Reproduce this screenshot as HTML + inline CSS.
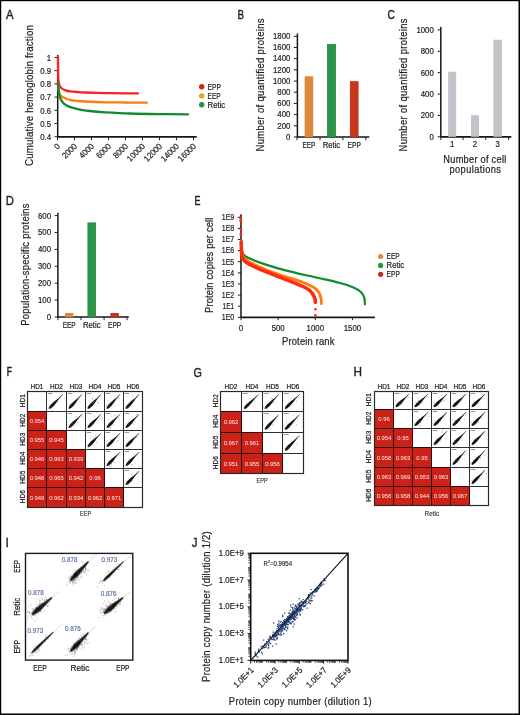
<!DOCTYPE html>
<html><head><meta charset="utf-8"><style>
html,body{margin:0;padding:0;background:#fff;}
svg{display:block;}
text{font-family:"Liberation Sans", sans-serif;}
</style></head><body>
<div style="will-change:transform;background:#fff;width:520px;height:715px"><svg width="520" height="715" viewBox="0 0 520 715">
<rect width="520" height="715" fill="#fff"/>
<text x="0.00" y="0.00" font-size="12.0" text-anchor="start" fill="#231f20" stroke="#231f20" stroke-width="0.38" transform="translate(5.90,18.70) scale(0.95,1)">A</text>
<text x="0.00" y="0.00" font-size="10.6" text-anchor="middle" fill="#231f20" stroke="#231f20" stroke-width="0.22" transform="translate(32.70,95.50) rotate(-90) scale(0.92,1)" textLength="153.26" lengthAdjust="spacing">Cumulative hemoglobin fraction</text>
<line x1="57.70" y1="55.00" x2="57.70" y2="137.30" stroke="#161616" stroke-width="1.5"/>
<line x1="57.20" y1="136.80" x2="196.70" y2="136.80" stroke="#161616" stroke-width="1.7"/>
<line x1="54.50" y1="57.50" x2="57.70" y2="57.50" stroke="#231f20" stroke-width="1.0"/>
<text x="0.00" y="0.00" font-size="8.5" text-anchor="end" fill="#231f20" stroke="#231f20" stroke-width="0.22" transform="translate(51.00,60.80) scale(0.92,1)">1</text>
<line x1="54.50" y1="70.70" x2="57.70" y2="70.70" stroke="#231f20" stroke-width="1.0"/>
<text x="0.00" y="0.00" font-size="8.5" text-anchor="end" fill="#231f20" stroke="#231f20" stroke-width="0.22" transform="translate(51.00,74.00) scale(0.92,1)">0.9</text>
<line x1="54.50" y1="83.90" x2="57.70" y2="83.90" stroke="#231f20" stroke-width="1.0"/>
<text x="0.00" y="0.00" font-size="8.5" text-anchor="end" fill="#231f20" stroke="#231f20" stroke-width="0.22" transform="translate(51.00,87.20) scale(0.92,1)">0.8</text>
<line x1="54.50" y1="97.10" x2="57.70" y2="97.10" stroke="#231f20" stroke-width="1.0"/>
<text x="0.00" y="0.00" font-size="8.5" text-anchor="end" fill="#231f20" stroke="#231f20" stroke-width="0.22" transform="translate(51.00,100.40) scale(0.92,1)">0.7</text>
<line x1="54.50" y1="110.30" x2="57.70" y2="110.30" stroke="#231f20" stroke-width="1.0"/>
<text x="0.00" y="0.00" font-size="8.5" text-anchor="end" fill="#231f20" stroke="#231f20" stroke-width="0.22" transform="translate(51.00,113.60) scale(0.92,1)">0.6</text>
<line x1="54.50" y1="123.50" x2="57.70" y2="123.50" stroke="#231f20" stroke-width="1.0"/>
<text x="0.00" y="0.00" font-size="8.5" text-anchor="end" fill="#231f20" stroke="#231f20" stroke-width="0.22" transform="translate(51.00,126.80) scale(0.92,1)">0.5</text>
<line x1="54.50" y1="136.70" x2="57.70" y2="136.70" stroke="#231f20" stroke-width="1.0"/>
<text x="0.00" y="0.00" font-size="8.5" text-anchor="end" fill="#231f20" stroke="#231f20" stroke-width="0.22" transform="translate(51.00,140.00) scale(0.92,1)">0.4</text>
<line x1="57.50" y1="136.80" x2="57.50" y2="140.20" stroke="#231f20" stroke-width="1.0"/>
<text x="0.00" y="0.00" font-size="8.5" text-anchor="end" fill="#231f20" stroke="#231f20" stroke-width="0.22" transform="translate(60.70,146.80) rotate(-45) scale(0.92,1)">0</text>
<line x1="74.50" y1="136.80" x2="74.50" y2="140.20" stroke="#231f20" stroke-width="1.0"/>
<text x="0.00" y="0.00" font-size="8.5" text-anchor="end" fill="#231f20" stroke="#231f20" stroke-width="0.22" transform="translate(77.70,146.80) rotate(-45) scale(0.92,1)">2000</text>
<line x1="91.50" y1="136.80" x2="91.50" y2="140.20" stroke="#231f20" stroke-width="1.0"/>
<text x="0.00" y="0.00" font-size="8.5" text-anchor="end" fill="#231f20" stroke="#231f20" stroke-width="0.22" transform="translate(94.70,146.80) rotate(-45) scale(0.92,1)">4000</text>
<line x1="108.50" y1="136.80" x2="108.50" y2="140.20" stroke="#231f20" stroke-width="1.0"/>
<text x="0.00" y="0.00" font-size="8.5" text-anchor="end" fill="#231f20" stroke="#231f20" stroke-width="0.22" transform="translate(111.70,146.80) rotate(-45) scale(0.92,1)">6000</text>
<line x1="125.50" y1="136.80" x2="125.50" y2="140.20" stroke="#231f20" stroke-width="1.0"/>
<text x="0.00" y="0.00" font-size="8.5" text-anchor="end" fill="#231f20" stroke="#231f20" stroke-width="0.22" transform="translate(128.70,146.80) rotate(-45) scale(0.92,1)">8000</text>
<line x1="142.50" y1="136.80" x2="142.50" y2="140.20" stroke="#231f20" stroke-width="1.0"/>
<text x="0.00" y="0.00" font-size="8.5" text-anchor="end" fill="#231f20" stroke="#231f20" stroke-width="0.22" transform="translate(145.70,146.80) rotate(-45) scale(0.92,1)">10000</text>
<line x1="159.50" y1="136.80" x2="159.50" y2="140.20" stroke="#231f20" stroke-width="1.0"/>
<text x="0.00" y="0.00" font-size="8.5" text-anchor="end" fill="#231f20" stroke="#231f20" stroke-width="0.22" transform="translate(162.70,146.80) rotate(-45) scale(0.92,1)">12000</text>
<line x1="176.50" y1="136.80" x2="176.50" y2="140.20" stroke="#231f20" stroke-width="1.0"/>
<text x="0.00" y="0.00" font-size="8.5" text-anchor="end" fill="#231f20" stroke="#231f20" stroke-width="0.22" transform="translate(179.70,146.80) rotate(-45) scale(0.92,1)">14000</text>
<line x1="193.50" y1="136.80" x2="193.50" y2="140.20" stroke="#231f20" stroke-width="1.0"/>
<text x="0.00" y="0.00" font-size="8.5" text-anchor="end" fill="#231f20" stroke="#231f20" stroke-width="0.22" transform="translate(196.70,146.80) rotate(-45) scale(0.92,1)">16000</text>
<path d="M58.00,56.80 C58.02,59.00 58.03,66.13 58.10,70.00 C58.17,73.87 58.20,77.50 58.40,80.00 C58.60,82.50 58.73,83.58 59.30,85.00 C59.87,86.42 60.77,87.62 61.80,88.50 C62.83,89.38 64.07,89.82 65.50,90.30 C66.93,90.78 68.48,91.12 70.40,91.40 C72.32,91.68 74.60,91.82 77.00,92.00 C79.40,92.18 79.97,92.32 84.80,92.50 C89.63,92.68 99.30,92.97 106.00,93.10 C112.70,93.23 119.67,93.25 125.00,93.30 C130.33,93.35 135.83,93.38 138.00,93.40" fill="none" stroke="#ff1f1f" stroke-width="2.3" stroke-linecap="round"/>
<path d="M58.00,84.00 C58.12,85.00 58.40,88.28 58.70,90.00 C59.00,91.72 59.33,93.25 59.80,94.30 C60.27,95.35 60.85,95.75 61.50,96.30 C62.15,96.85 62.82,97.15 63.70,97.60 C64.58,98.05 65.68,98.60 66.80,99.00 C67.92,99.40 68.70,99.68 70.40,100.00 C72.10,100.32 74.60,100.65 77.00,100.90 C79.40,101.15 79.97,101.27 84.80,101.50 C89.63,101.73 99.30,102.13 106.00,102.30 C112.70,102.47 118.17,102.45 125.00,102.50 C131.83,102.55 143.33,102.58 147.00,102.60" fill="none" stroke="#ff7b12" stroke-width="2.3" stroke-linecap="round"/>
<path d="M57.90,83.00 C58.00,84.08 58.25,87.47 58.50,89.50 C58.75,91.53 59.08,93.70 59.40,95.20 C59.72,96.70 60.00,97.53 60.40,98.50 C60.80,99.47 61.28,100.22 61.80,101.00 C62.32,101.78 62.87,102.57 63.50,103.20 C64.13,103.83 64.45,104.13 65.60,104.80 C66.75,105.47 68.00,106.40 70.40,107.20 C72.80,108.00 75.98,108.88 80.00,109.60 C84.02,110.32 90.17,111.03 94.50,111.50 C98.83,111.97 100.08,112.07 106.00,112.40 C111.92,112.73 121.00,113.22 130.00,113.50 C139.00,113.78 150.33,113.95 160.00,114.10 C169.67,114.25 183.33,114.35 188.00,114.40" fill="none" stroke="#138a2e" stroke-width="2.3" stroke-linecap="round"/>
<circle cx="201.70" cy="86.70" r="2.7" fill="#c8291b"/>
<text x="207.60" y="89.60" font-size="8.5" text-anchor="start" fill="#231f20" stroke="#231f20" stroke-width="0.22" textLength="13.30" lengthAdjust="spacingAndGlyphs">EPP</text>
<circle cx="201.70" cy="95.90" r="2.7" fill="#eaa520"/>
<text x="207.60" y="98.80" font-size="8.5" text-anchor="start" fill="#231f20" stroke="#231f20" stroke-width="0.22" textLength="13.00" lengthAdjust="spacingAndGlyphs">EEP</text>
<circle cx="201.70" cy="104.80" r="2.7" fill="#1f9a43"/>
<text x="207.60" y="107.70" font-size="8.5" text-anchor="start" fill="#231f20" stroke="#231f20" stroke-width="0.22" textLength="17.60" lengthAdjust="spacingAndGlyphs">Retic</text>
<text x="0.00" y="0.00" font-size="12.0" text-anchor="start" fill="#231f20" stroke="#231f20" stroke-width="0.4" transform="translate(237.60,18.70) scale(0.82,1)">B</text>
<text x="0.00" y="0.00" font-size="10.3" text-anchor="middle" fill="#231f20" stroke="#231f20" stroke-width="0.22" transform="translate(264.40,85.00) rotate(-90) scale(0.92,1)" textLength="144.57" lengthAdjust="spacing">Number of quantified proteins</text>
<line x1="297.40" y1="33.50" x2="297.40" y2="137.50" stroke="#161616" stroke-width="1.5"/>
<line x1="296.90" y1="137.00" x2="369.30" y2="137.00" stroke="#161616" stroke-width="1.7"/>
<line x1="293.80" y1="36.30" x2="297.40" y2="36.30" stroke="#231f20" stroke-width="1.0"/>
<text x="0.00" y="0.00" font-size="8.5" text-anchor="end" fill="#231f20" stroke="#231f20" stroke-width="0.22" transform="translate(290.40,39.00) scale(0.92,1)">1800</text>
<line x1="293.80" y1="47.49" x2="297.40" y2="47.49" stroke="#231f20" stroke-width="1.0"/>
<text x="0.00" y="0.00" font-size="8.5" text-anchor="end" fill="#231f20" stroke="#231f20" stroke-width="0.22" transform="translate(290.40,50.19) scale(0.92,1)">1600</text>
<line x1="293.80" y1="58.68" x2="297.40" y2="58.68" stroke="#231f20" stroke-width="1.0"/>
<text x="0.00" y="0.00" font-size="8.5" text-anchor="end" fill="#231f20" stroke="#231f20" stroke-width="0.22" transform="translate(290.40,61.38) scale(0.92,1)">1400</text>
<line x1="293.80" y1="69.87" x2="297.40" y2="69.87" stroke="#231f20" stroke-width="1.0"/>
<text x="0.00" y="0.00" font-size="8.5" text-anchor="end" fill="#231f20" stroke="#231f20" stroke-width="0.22" transform="translate(290.40,72.57) scale(0.92,1)">1200</text>
<line x1="293.80" y1="81.06" x2="297.40" y2="81.06" stroke="#231f20" stroke-width="1.0"/>
<text x="0.00" y="0.00" font-size="8.5" text-anchor="end" fill="#231f20" stroke="#231f20" stroke-width="0.22" transform="translate(290.40,83.76) scale(0.92,1)">1000</text>
<line x1="293.80" y1="92.24" x2="297.40" y2="92.24" stroke="#231f20" stroke-width="1.0"/>
<text x="0.00" y="0.00" font-size="8.5" text-anchor="end" fill="#231f20" stroke="#231f20" stroke-width="0.22" transform="translate(290.40,94.94) scale(0.92,1)">800</text>
<line x1="293.80" y1="103.43" x2="297.40" y2="103.43" stroke="#231f20" stroke-width="1.0"/>
<text x="0.00" y="0.00" font-size="8.5" text-anchor="end" fill="#231f20" stroke="#231f20" stroke-width="0.22" transform="translate(290.40,106.13) scale(0.92,1)">600</text>
<line x1="293.80" y1="114.62" x2="297.40" y2="114.62" stroke="#231f20" stroke-width="1.0"/>
<text x="0.00" y="0.00" font-size="8.5" text-anchor="end" fill="#231f20" stroke="#231f20" stroke-width="0.22" transform="translate(290.40,117.32) scale(0.92,1)">400</text>
<line x1="293.80" y1="125.81" x2="297.40" y2="125.81" stroke="#231f20" stroke-width="1.0"/>
<text x="0.00" y="0.00" font-size="8.5" text-anchor="end" fill="#231f20" stroke="#231f20" stroke-width="0.22" transform="translate(290.40,128.51) scale(0.92,1)">200</text>
<line x1="293.80" y1="137.00" x2="297.40" y2="137.00" stroke="#231f20" stroke-width="1.0"/>
<text x="0.00" y="0.00" font-size="8.5" text-anchor="end" fill="#231f20" stroke="#231f20" stroke-width="0.22" transform="translate(290.40,139.70) scale(0.92,1)">0</text>
<line x1="297.00" y1="137.00" x2="297.00" y2="140.20" stroke="#231f20" stroke-width="1.0"/>
<line x1="320.00" y1="137.00" x2="320.00" y2="140.20" stroke="#231f20" stroke-width="1.0"/>
<line x1="342.90" y1="137.00" x2="342.90" y2="140.20" stroke="#231f20" stroke-width="1.0"/>
<line x1="365.80" y1="137.00" x2="365.80" y2="140.20" stroke="#231f20" stroke-width="1.0"/>
<rect x="305.10" y="76.80" width="7.70" height="60.20" fill="#dd8a3e" stroke="#e07b28" stroke-width="0.8"/>
<text x="308.95" y="147.60" font-size="8.5" text-anchor="middle" fill="#231f20" stroke="#231f20" stroke-width="0.22" textLength="13.00" lengthAdjust="spacingAndGlyphs">EEP</text>
<rect x="327.40" y="44.40" width="8.10" height="92.60" fill="#2a9549" stroke="#238a40" stroke-width="0.8"/>
<text x="331.45" y="147.60" font-size="8.5" text-anchor="middle" fill="#231f20" stroke="#231f20" stroke-width="0.22" textLength="17.60" lengthAdjust="spacingAndGlyphs">Retic</text>
<rect x="350.30" y="81.70" width="7.80" height="55.30" fill="#c9361c" stroke="#c02a14" stroke-width="0.8"/>
<text x="354.20" y="147.60" font-size="8.5" text-anchor="middle" fill="#231f20" stroke="#231f20" stroke-width="0.22" textLength="13.30" lengthAdjust="spacingAndGlyphs">EPP</text>
<text x="0.00" y="0.00" font-size="12.0" text-anchor="start" fill="#231f20" stroke="#231f20" stroke-width="0.4" transform="translate(387.50,18.90) scale(0.85,1)">C</text>
<text x="0.00" y="0.00" font-size="10.2" text-anchor="middle" fill="#231f20" stroke="#231f20" stroke-width="0.22" transform="translate(407.40,85.00) rotate(-90) scale(0.92,1)" textLength="144.57" lengthAdjust="spacing">Number of quantified proteins</text>
<line x1="440.80" y1="27.00" x2="440.80" y2="137.30" stroke="#161616" stroke-width="1.5"/>
<line x1="440.30" y1="136.80" x2="511.30" y2="136.80" stroke="#161616" stroke-width="1.7"/>
<line x1="437.60" y1="29.90" x2="440.80" y2="29.90" stroke="#231f20" stroke-width="1.0"/>
<text x="0.00" y="0.00" font-size="8.5" text-anchor="end" fill="#231f20" stroke="#231f20" stroke-width="0.22" transform="translate(433.80,32.80) scale(0.92,1)">1000</text>
<line x1="437.60" y1="51.28" x2="440.80" y2="51.28" stroke="#231f20" stroke-width="1.0"/>
<text x="0.00" y="0.00" font-size="8.5" text-anchor="end" fill="#231f20" stroke="#231f20" stroke-width="0.22" transform="translate(433.80,54.18) scale(0.92,1)">800</text>
<line x1="437.60" y1="72.66" x2="440.80" y2="72.66" stroke="#231f20" stroke-width="1.0"/>
<text x="0.00" y="0.00" font-size="8.5" text-anchor="end" fill="#231f20" stroke="#231f20" stroke-width="0.22" transform="translate(433.80,75.56) scale(0.92,1)">600</text>
<line x1="437.60" y1="94.04" x2="440.80" y2="94.04" stroke="#231f20" stroke-width="1.0"/>
<text x="0.00" y="0.00" font-size="8.5" text-anchor="end" fill="#231f20" stroke="#231f20" stroke-width="0.22" transform="translate(433.80,96.94) scale(0.92,1)">400</text>
<line x1="437.60" y1="115.42" x2="440.80" y2="115.42" stroke="#231f20" stroke-width="1.0"/>
<text x="0.00" y="0.00" font-size="8.5" text-anchor="end" fill="#231f20" stroke="#231f20" stroke-width="0.22" transform="translate(433.80,118.32) scale(0.92,1)">200</text>
<line x1="437.60" y1="136.80" x2="440.80" y2="136.80" stroke="#231f20" stroke-width="1.0"/>
<text x="0.00" y="0.00" font-size="8.5" text-anchor="end" fill="#231f20" stroke="#231f20" stroke-width="0.22" transform="translate(433.80,139.70) scale(0.92,1)">0</text>
<line x1="440.80" y1="136.80" x2="440.80" y2="140.00" stroke="#231f20" stroke-width="1.0"/>
<line x1="463.00" y1="136.80" x2="463.00" y2="140.00" stroke="#231f20" stroke-width="1.0"/>
<line x1="485.80" y1="136.80" x2="485.80" y2="140.00" stroke="#231f20" stroke-width="1.0"/>
<line x1="508.70" y1="136.80" x2="508.70" y2="140.00" stroke="#231f20" stroke-width="1.0"/>
<rect x="448.10" y="71.70" width="8.10" height="65.10" fill="#c5c3c9"/>
<text x="0.00" y="0.00" font-size="8.5" text-anchor="middle" fill="#231f20" stroke="#231f20" stroke-width="0.22" transform="translate(452.15,147.30) scale(0.92,1)">1</text>
<rect x="471.00" y="115.20" width="8.00" height="21.60" fill="#c5c3c9"/>
<text x="0.00" y="0.00" font-size="8.5" text-anchor="middle" fill="#231f20" stroke="#231f20" stroke-width="0.22" transform="translate(475.00,147.30) scale(0.92,1)">2</text>
<rect x="493.30" y="39.70" width="8.60" height="97.10" fill="#c5c3c9"/>
<text x="0.00" y="0.00" font-size="8.5" text-anchor="middle" fill="#231f20" stroke="#231f20" stroke-width="0.22" transform="translate(497.60,147.30) scale(0.92,1)">3</text>
<text x="0.00" y="0.00" font-size="10.3" text-anchor="middle" fill="#231f20" stroke="#231f20" stroke-width="0.22" transform="translate(474.80,162.60) scale(0.9,1)" textLength="70.00" lengthAdjust="spacing">Number of cell</text>
<text x="0.00" y="0.00" font-size="10.3" text-anchor="middle" fill="#231f20" stroke="#231f20" stroke-width="0.22" transform="translate(475.20,172.80) scale(0.9,1)" textLength="57.22" lengthAdjust="spacing">populations</text>
<text x="0.00" y="0.00" font-size="12.0" text-anchor="start" fill="#231f20" stroke="#231f20" stroke-width="0.38" transform="translate(5.80,204.70) scale(0.94,1)">D</text>
<text x="0.00" y="0.00" font-size="10.2" text-anchor="middle" fill="#231f20" stroke="#231f20" stroke-width="0.22" transform="translate(29.40,264.60) rotate(-90) scale(0.92,1)" textLength="132.93" lengthAdjust="spacing">Population-specific proteins</text>
<line x1="57.90" y1="212.80" x2="57.90" y2="317.50" stroke="#161616" stroke-width="1.5"/>
<line x1="57.40" y1="317.00" x2="128.80" y2="317.00" stroke="#161616" stroke-width="1.7"/>
<line x1="54.70" y1="215.60" x2="57.90" y2="215.60" stroke="#231f20" stroke-width="1.0"/>
<text x="0.00" y="0.00" font-size="8.5" text-anchor="end" fill="#231f20" stroke="#231f20" stroke-width="0.22" transform="translate(51.00,218.50) scale(0.92,1)">600</text>
<line x1="54.70" y1="232.50" x2="57.90" y2="232.50" stroke="#231f20" stroke-width="1.0"/>
<text x="0.00" y="0.00" font-size="8.5" text-anchor="end" fill="#231f20" stroke="#231f20" stroke-width="0.22" transform="translate(51.00,235.40) scale(0.92,1)">500</text>
<line x1="54.70" y1="249.40" x2="57.90" y2="249.40" stroke="#231f20" stroke-width="1.0"/>
<text x="0.00" y="0.00" font-size="8.5" text-anchor="end" fill="#231f20" stroke="#231f20" stroke-width="0.22" transform="translate(51.00,252.30) scale(0.92,1)">400</text>
<line x1="54.70" y1="266.30" x2="57.90" y2="266.30" stroke="#231f20" stroke-width="1.0"/>
<text x="0.00" y="0.00" font-size="8.5" text-anchor="end" fill="#231f20" stroke="#231f20" stroke-width="0.22" transform="translate(51.00,269.20) scale(0.92,1)">300</text>
<line x1="54.70" y1="283.20" x2="57.90" y2="283.20" stroke="#231f20" stroke-width="1.0"/>
<text x="0.00" y="0.00" font-size="8.5" text-anchor="end" fill="#231f20" stroke="#231f20" stroke-width="0.22" transform="translate(51.00,286.10) scale(0.92,1)">200</text>
<line x1="54.70" y1="300.10" x2="57.90" y2="300.10" stroke="#231f20" stroke-width="1.0"/>
<text x="0.00" y="0.00" font-size="8.5" text-anchor="end" fill="#231f20" stroke="#231f20" stroke-width="0.22" transform="translate(51.00,303.00) scale(0.92,1)">100</text>
<line x1="54.70" y1="317.00" x2="57.90" y2="317.00" stroke="#231f20" stroke-width="1.0"/>
<text x="0.00" y="0.00" font-size="8.5" text-anchor="end" fill="#231f20" stroke="#231f20" stroke-width="0.22" transform="translate(51.00,319.90) scale(0.92,1)">0</text>
<line x1="57.90" y1="317.00" x2="57.90" y2="320.20" stroke="#231f20" stroke-width="1.0"/>
<line x1="81.00" y1="317.00" x2="81.00" y2="320.20" stroke="#231f20" stroke-width="1.0"/>
<line x1="104.10" y1="317.00" x2="104.10" y2="320.20" stroke="#231f20" stroke-width="1.0"/>
<line x1="127.00" y1="317.00" x2="127.00" y2="320.20" stroke="#231f20" stroke-width="1.0"/>
<rect x="65.40" y="313.40" width="7.50" height="3.60" fill="#dd8a3e" stroke="#e07b28" stroke-width="0.8"/>
<text x="69.15" y="327.60" font-size="8.5" text-anchor="middle" fill="#231f20" stroke="#231f20" stroke-width="0.22" textLength="13.00" lengthAdjust="spacingAndGlyphs">EEP</text>
<rect x="87.90" y="222.90" width="7.70" height="94.10" fill="#2a9549" stroke="#238a40" stroke-width="0.8"/>
<text x="91.75" y="327.60" font-size="8.5" text-anchor="middle" fill="#231f20" stroke="#231f20" stroke-width="0.22" textLength="17.60" lengthAdjust="spacingAndGlyphs">Retic</text>
<rect x="110.90" y="313.40" width="7.50" height="3.60" fill="#c9361c" stroke="#c02a14" stroke-width="0.8"/>
<text x="114.65" y="327.60" font-size="8.5" text-anchor="middle" fill="#231f20" stroke="#231f20" stroke-width="0.22" textLength="13.30" lengthAdjust="spacingAndGlyphs">EPP</text>
<text x="0.00" y="0.00" font-size="12.0" text-anchor="start" fill="#231f20" stroke="#231f20" stroke-width="0.6" transform="translate(194.40,204.80) scale(0.74,1)">E</text>
<text x="0.00" y="0.00" font-size="10.2" text-anchor="middle" fill="#231f20" stroke="#231f20" stroke-width="0.22" transform="translate(212.60,265.30) rotate(-90) scale(0.92,1)" textLength="103.70" lengthAdjust="spacing">Protein copies per cell</text>
<line x1="241.00" y1="214.20" x2="241.00" y2="317.80" stroke="#161616" stroke-width="1.5"/>
<line x1="240.50" y1="317.30" x2="374.80" y2="317.30" stroke="#161616" stroke-width="1.7"/>
<line x1="237.80" y1="317.30" x2="241.00" y2="317.30" stroke="#231f20" stroke-width="1.0"/>
<text x="234.20" y="320.20" font-size="8.5" text-anchor="end" fill="#231f20" stroke="#231f20" stroke-width="0.22" textLength="12.40" lengthAdjust="spacingAndGlyphs">1E0</text>
<line x1="237.80" y1="306.18" x2="241.00" y2="306.18" stroke="#231f20" stroke-width="1.0"/>
<text x="234.20" y="309.08" font-size="8.5" text-anchor="end" fill="#231f20" stroke="#231f20" stroke-width="0.22" textLength="11.60" lengthAdjust="spacingAndGlyphs">1E1</text>
<line x1="237.80" y1="295.06" x2="241.00" y2="295.06" stroke="#231f20" stroke-width="1.0"/>
<text x="234.20" y="297.96" font-size="8.5" text-anchor="end" fill="#231f20" stroke="#231f20" stroke-width="0.22" textLength="12.40" lengthAdjust="spacingAndGlyphs">1E2</text>
<line x1="237.80" y1="283.94" x2="241.00" y2="283.94" stroke="#231f20" stroke-width="1.0"/>
<text x="234.20" y="286.84" font-size="8.5" text-anchor="end" fill="#231f20" stroke="#231f20" stroke-width="0.22" textLength="12.40" lengthAdjust="spacingAndGlyphs">1E3</text>
<line x1="237.80" y1="272.82" x2="241.00" y2="272.82" stroke="#231f20" stroke-width="1.0"/>
<text x="234.20" y="275.72" font-size="8.5" text-anchor="end" fill="#231f20" stroke="#231f20" stroke-width="0.22" textLength="12.40" lengthAdjust="spacingAndGlyphs">1E4</text>
<line x1="237.80" y1="261.70" x2="241.00" y2="261.70" stroke="#231f20" stroke-width="1.0"/>
<text x="234.20" y="264.60" font-size="8.5" text-anchor="end" fill="#231f20" stroke="#231f20" stroke-width="0.22" textLength="12.40" lengthAdjust="spacingAndGlyphs">1E5</text>
<line x1="237.80" y1="250.58" x2="241.00" y2="250.58" stroke="#231f20" stroke-width="1.0"/>
<text x="234.20" y="253.48" font-size="8.5" text-anchor="end" fill="#231f20" stroke="#231f20" stroke-width="0.22" textLength="12.40" lengthAdjust="spacingAndGlyphs">1E6</text>
<line x1="237.80" y1="239.46" x2="241.00" y2="239.46" stroke="#231f20" stroke-width="1.0"/>
<text x="234.20" y="242.36" font-size="8.5" text-anchor="end" fill="#231f20" stroke="#231f20" stroke-width="0.22" textLength="12.40" lengthAdjust="spacingAndGlyphs">1E7</text>
<line x1="237.80" y1="228.34" x2="241.00" y2="228.34" stroke="#231f20" stroke-width="1.0"/>
<text x="234.20" y="231.24" font-size="8.5" text-anchor="end" fill="#231f20" stroke="#231f20" stroke-width="0.22" textLength="12.40" lengthAdjust="spacingAndGlyphs">1E8</text>
<line x1="237.80" y1="217.22" x2="241.00" y2="217.22" stroke="#231f20" stroke-width="1.0"/>
<text x="234.20" y="220.12" font-size="8.5" text-anchor="end" fill="#231f20" stroke="#231f20" stroke-width="0.22" textLength="12.40" lengthAdjust="spacingAndGlyphs">1E9</text>
<line x1="241.00" y1="317.30" x2="241.00" y2="320.20" stroke="#231f20" stroke-width="1.0"/>
<text x="0.00" y="0.00" font-size="8.5" text-anchor="middle" fill="#231f20" stroke="#231f20" stroke-width="0.22" transform="translate(241.00,331.20) scale(0.92,1)">0</text>
<line x1="278.15" y1="317.30" x2="278.15" y2="320.20" stroke="#231f20" stroke-width="1.0"/>
<text x="0.00" y="0.00" font-size="8.5" text-anchor="middle" fill="#231f20" stroke="#231f20" stroke-width="0.22" transform="translate(278.15,331.20) scale(0.92,1)">500</text>
<line x1="315.30" y1="317.30" x2="315.30" y2="320.20" stroke="#231f20" stroke-width="1.0"/>
<text x="0.00" y="0.00" font-size="8.5" text-anchor="middle" fill="#231f20" stroke="#231f20" stroke-width="0.22" transform="translate(315.30,331.20) scale(0.92,1)">1000</text>
<line x1="352.45" y1="317.30" x2="352.45" y2="320.20" stroke="#231f20" stroke-width="1.0"/>
<text x="0.00" y="0.00" font-size="8.5" text-anchor="middle" fill="#231f20" stroke="#231f20" stroke-width="0.22" transform="translate(352.45,331.20) scale(0.92,1)">1500</text>
<text x="0.00" y="0.00" font-size="10.2" text-anchor="middle" fill="#231f20" stroke="#231f20" stroke-width="0.22" transform="translate(308.20,345.40) scale(0.92,1)" textLength="56.96" lengthAdjust="spacing">Protein rank</text>
<path d="M241.30,240.00 C241.35,241.50 241.32,246.70 241.60,249.00 C241.88,251.30 242.18,252.47 243.00,253.80 C243.82,255.13 245.00,256.03 246.50,257.00 C248.00,257.97 249.27,258.50 252.00,259.60 C254.73,260.70 257.90,261.97 262.90,263.60 C267.90,265.23 274.82,267.45 282.00,269.40 C289.18,271.35 298.83,273.63 306.00,275.30 C313.17,276.97 319.33,278.12 325.00,279.40 C330.67,280.68 335.67,281.83 340.00,283.00 C344.33,284.17 347.92,285.20 351.00,286.40 C354.08,287.60 356.57,288.90 358.50,290.20 C360.43,291.50 361.60,292.77 362.60,294.20 C363.60,295.63 364.12,297.12 364.50,298.80 C364.88,300.48 364.83,303.38 364.90,304.30" fill="none" stroke="#138a2e" stroke-width="2.2" stroke-linecap="round"/>
<path d="M241.40,241.00 C241.47,242.67 241.45,248.33 241.80,251.00 C242.15,253.67 242.55,255.33 243.50,257.00 C244.45,258.67 245.42,259.62 247.50,261.00 C249.58,262.38 252.25,263.57 256.00,265.30 C259.75,267.03 265.42,269.62 270.00,271.40 C274.58,273.18 278.83,274.47 283.50,276.00 C288.17,277.53 293.92,279.20 298.00,280.60 C302.08,282.00 305.08,283.07 308.00,284.40 C310.92,285.73 313.62,287.13 315.50,288.60 C317.38,290.07 318.38,291.55 319.30,293.20 C320.22,294.85 320.67,296.77 321.00,298.50 C321.33,300.23 321.25,302.75 321.30,303.60" fill="none" stroke="#ff7b12" stroke-width="2.8" stroke-linecap="round"/>
<path d="M241.20,242.00 C241.25,243.67 241.23,249.25 241.50,252.00 C241.77,254.75 241.97,256.73 242.80,258.50 C243.63,260.27 244.63,261.27 246.50,262.60 C248.37,263.93 251.25,265.17 254.00,266.50 C256.75,267.83 260.00,269.35 263.00,270.60 C266.00,271.85 268.58,272.67 272.00,274.00 C275.42,275.33 279.67,277.07 283.50,278.60 C287.33,280.13 291.58,281.80 295.00,283.20 C298.42,284.60 301.50,285.73 304.00,287.00 C306.50,288.27 308.40,289.38 310.00,290.80 C311.60,292.22 312.75,294.05 313.60,295.50 C314.45,296.95 314.82,298.37 315.10,299.50 C315.38,300.63 315.27,301.83 315.30,302.30" fill="none" stroke="#ff2a12" stroke-width="3.5" stroke-linecap="round"/>
<circle cx="240.80" cy="218.20" r="1.5" fill="#ff2a12"/>
<circle cx="240.80" cy="220.80" r="1.5" fill="#ff2a12"/>
<circle cx="240.90" cy="229.50" r="1.4" fill="#ff2a12"/>
<circle cx="240.90" cy="234.00" r="1.5" fill="#ff2a12"/>
<circle cx="315.40" cy="309.20" r="1.3" fill="#ff2a12"/>
<circle cx="315.40" cy="315.30" r="1.3" fill="#ff2a12"/>
<circle cx="380.60" cy="256.50" r="2.6" fill="#e08a3c"/>
<text x="386.60" y="259.40" font-size="8.5" text-anchor="start" fill="#231f20" stroke="#231f20" stroke-width="0.22" textLength="13.00" lengthAdjust="spacingAndGlyphs">EEP</text>
<circle cx="380.60" cy="265.40" r="2.6" fill="#1f9a43"/>
<text x="386.60" y="268.30" font-size="8.5" text-anchor="start" fill="#231f20" stroke="#231f20" stroke-width="0.22" textLength="17.60" lengthAdjust="spacingAndGlyphs">Retic</text>
<circle cx="380.60" cy="274.30" r="2.6" fill="#c8291b"/>
<text x="386.60" y="277.20" font-size="8.5" text-anchor="start" fill="#231f20" stroke="#231f20" stroke-width="0.22" textLength="13.30" lengthAdjust="spacingAndGlyphs">EPP</text>
<text x="0.00" y="0.00" font-size="12.0" text-anchor="start" fill="#231f20" stroke="#231f20" stroke-width="0.6" transform="translate(6.80,376.20) scale(0.71,1)">F</text>
<rect x="27.50" y="411.50" width="19.00" height="19.00" fill="#cb2118"/>
<rect x="27.50" y="430.50" width="19.00" height="19.00" fill="#cb2118"/>
<rect x="46.50" y="430.50" width="20.00" height="19.00" fill="#cb2118"/>
<rect x="27.50" y="449.50" width="19.00" height="19.00" fill="#cb2118"/>
<rect x="46.50" y="449.50" width="20.00" height="19.00" fill="#cb2118"/>
<rect x="66.50" y="449.50" width="19.00" height="19.00" fill="#cb2118"/>
<rect x="27.50" y="468.50" width="19.00" height="19.00" fill="#cb2118"/>
<rect x="46.50" y="468.50" width="20.00" height="19.00" fill="#cb2118"/>
<rect x="66.50" y="468.50" width="19.00" height="19.00" fill="#cb2118"/>
<rect x="85.50" y="468.50" width="19.00" height="19.00" fill="#cb2118"/>
<rect x="27.50" y="487.50" width="19.00" height="20.00" fill="#cb2118"/>
<rect x="46.50" y="487.50" width="20.00" height="20.00" fill="#cb2118"/>
<rect x="66.50" y="487.50" width="19.00" height="20.00" fill="#cb2118"/>
<rect x="85.50" y="487.50" width="19.00" height="20.00" fill="#cb2118"/>
<rect x="104.50" y="487.50" width="19.00" height="20.00" fill="#cb2118"/>
<rect x="47.70" y="393.00" width="4.80" height="0.90" fill="#7c80dc"/>
<path d="M49.19,408.98 L50.90,408.37 L53.14,406.57 L55.55,403.80 L57.36,401.30 L59.20,398.83 L61.17,396.49 L63.21,394.20 L62.99,394.00 L60.77,396.09 L58.48,398.13 L56.06,400.04 L53.61,401.92 L50.91,404.41 L49.18,406.70 L48.61,408.42Z" fill="#111"/>
<path d="M54.3,405.6h0.6M51.5,409.4h0.6M55.4,401.3h0.6M55.8,402.4h0.6M48.9,407.7h0.6M50.3,407.7h0.6M54.7,403.5h0.6M51.1,405.1h0.6M58.7,402.2h0.6M53.4,402.9h0.6M64.1,398.5h0.6M53.4,405.7h0.6M51.7,407.7h0.6M60.2,398.8h0.6" stroke="#666" stroke-width="0.6" fill="none"/>
<rect x="67.70" y="393.00" width="4.56" height="0.90" fill="#7c80dc"/>
<path d="M69.07,408.97 L70.74,408.35 L72.89,406.54 L75.17,403.78 L76.86,401.28 L78.59,398.82 L80.45,396.48 L82.38,394.20 L82.16,394.00 L80.04,396.10 L77.86,398.14 L75.54,400.06 L73.18,401.94 L70.61,404.44 L68.98,406.72 L68.49,408.43Z" fill="#111"/>
<path d="M69.1,404.6h0.6M72.3,402.9h0.6M75.9,401.9h0.6M71.5,406.2h0.6M75.9,398.7h0.6M76.4,401.5h0.6M73.5,402.0h0.6M79.8,401.8h0.6M70.1,404.0h0.6M78.6,396.5h0.6M76.7,398.2h0.6M74.2,410.8h0.6M73.9,403.2h0.6M73.9,401.5h0.6" stroke="#666" stroke-width="0.6" fill="none"/>
<rect x="86.70" y="393.00" width="4.56" height="0.90" fill="#7c80dc"/>
<path d="M88.07,408.97 L89.74,408.35 L91.89,406.54 L94.17,403.78 L95.86,401.28 L97.59,398.82 L99.45,396.48 L101.38,394.20 L101.16,394.00 L99.04,396.10 L96.86,398.14 L94.54,400.06 L92.18,401.94 L89.61,404.44 L87.98,406.72 L87.49,408.43Z" fill="#111"/>
<path d="M87.0,407.1h0.6M92.6,399.2h0.6M97.5,396.4h0.6M97.1,402.8h0.6M92.1,398.6h0.6M100.0,397.0h0.6M93.3,402.2h0.6M95.9,399.1h0.6M98.4,402.7h0.6M91.1,404.9h0.6M92.3,403.5h0.6M93.1,402.4h0.6M90.2,406.8h0.6M97.5,398.9h0.6" stroke="#666" stroke-width="0.6" fill="none"/>
<rect x="105.70" y="393.00" width="4.56" height="0.90" fill="#7c80dc"/>
<path d="M107.07,408.97 L108.74,408.35 L110.89,406.54 L113.17,403.78 L114.86,401.28 L116.59,398.82 L118.45,396.48 L120.38,394.20 L120.16,394.00 L118.04,396.10 L115.86,398.14 L113.54,400.06 L111.18,401.94 L108.61,404.44 L106.98,406.72 L106.49,408.43Z" fill="#111"/>
<path d="M108.4,407.0h0.6M118.8,398.6h0.6M106.0,406.0h0.6M118.1,397.6h0.6M117.5,398.7h0.6M110.9,402.4h0.6M113.9,406.5h0.6M106.2,404.4h0.6M109.0,406.5h0.6M113.7,403.3h0.6M113.9,400.9h0.6M112.0,403.3h0.6M107.9,400.8h0.6M113.7,398.3h0.6" stroke="#666" stroke-width="0.6" fill="none"/>
<rect x="124.70" y="393.00" width="4.56" height="0.90" fill="#7c80dc"/>
<path d="M126.07,408.97 L127.74,408.35 L129.89,406.54 L132.17,403.78 L133.86,401.28 L135.59,398.82 L137.45,396.48 L139.38,394.20 L139.16,394.00 L137.04,396.10 L134.86,398.14 L132.54,400.06 L130.18,401.94 L127.61,404.44 L125.98,406.72 L125.49,408.43Z" fill="#111"/>
<path d="M130.4,400.4h0.6M124.9,406.6h0.6M137.3,397.4h0.6M132.5,395.5h0.6M130.0,403.0h0.6M133.9,400.7h0.6M127.5,408.7h0.6M128.2,406.9h0.6M129.9,404.3h0.6M127.6,406.7h0.6M126.8,407.2h0.6M136.6,397.4h0.6M133.9,401.2h0.6M130.9,405.0h0.6" stroke="#666" stroke-width="0.6" fill="none"/>
<rect x="67.70" y="413.00" width="4.56" height="0.90" fill="#7c80dc"/>
<path d="M69.07,428.12 L70.72,427.57 L72.86,425.87 L75.14,423.23 L76.84,420.84 L78.58,418.48 L80.45,416.25 L82.38,414.07 L82.16,413.87 L80.05,415.86 L77.86,417.78 L75.55,419.58 L73.21,421.35 L70.64,423.71 L69.00,425.89 L68.49,427.56Z" fill="#111"/>
<path d="M75.2,425.2h0.6M82.8,417.3h0.6M73.8,421.4h0.6M70.1,426.6h0.6M72.7,423.3h0.6M73.4,428.4h0.6M70.7,429.2h0.6M70.0,425.5h0.6M77.1,422.7h0.6M81.0,415.9h0.6M78.9,416.7h0.6M72.2,422.2h0.6M71.1,426.0h0.6M76.5,416.4h0.6" stroke="#666" stroke-width="0.6" fill="none"/>
<rect x="86.70" y="413.00" width="4.56" height="0.90" fill="#7c80dc"/>
<path d="M88.07,428.12 L89.72,427.57 L91.86,425.87 L94.14,423.23 L95.84,420.84 L97.58,418.48 L99.45,416.25 L101.38,414.07 L101.16,413.87 L99.05,415.86 L96.86,417.78 L94.55,419.58 L92.21,421.35 L89.64,423.71 L88.00,425.89 L87.49,427.56Z" fill="#111"/>
<path d="M92.2,424.2h0.6M102.3,418.1h0.6M99.0,418.1h0.6M94.3,416.2h0.6M89.2,423.7h0.6M88.0,427.3h0.6M87.9,427.3h0.6M97.3,420.3h0.6M96.2,412.8h0.6M100.9,416.6h0.6M98.7,415.3h0.6M91.3,425.7h0.6M90.7,425.9h0.6M100.6,418.5h0.6" stroke="#666" stroke-width="0.6" fill="none"/>
<rect x="105.70" y="413.00" width="4.56" height="0.90" fill="#7c80dc"/>
<path d="M107.07,428.12 L108.72,427.57 L110.86,425.87 L113.14,423.23 L114.84,420.84 L116.58,418.48 L118.45,416.25 L120.38,414.07 L120.16,413.87 L118.05,415.86 L115.86,417.78 L113.55,419.58 L111.21,421.35 L108.64,423.71 L107.00,425.89 L106.49,427.56Z" fill="#111"/>
<path d="M114.9,415.3h0.6M116.8,418.1h0.6M106.1,425.2h0.6M113.6,415.5h0.6M115.0,417.6h0.6M116.5,418.1h0.6M112.0,424.9h0.6M108.0,419.4h0.6M113.8,424.9h0.6M108.1,425.0h0.6M110.1,428.0h0.6M119.1,420.2h0.6M110.4,427.8h0.6M111.2,416.2h0.6" stroke="#666" stroke-width="0.6" fill="none"/>
<rect x="124.70" y="413.00" width="4.56" height="0.90" fill="#7c80dc"/>
<path d="M126.07,428.12 L127.72,427.57 L129.86,425.87 L132.14,423.23 L133.84,420.84 L135.58,418.48 L137.45,416.25 L139.38,414.07 L139.16,413.87 L137.05,415.86 L134.86,417.78 L132.55,419.58 L130.21,421.35 L127.64,423.71 L126.00,425.89 L125.49,427.56Z" fill="#111"/>
<path d="M129.3,422.8h0.6M125.7,427.4h0.6M136.5,414.7h0.6M135.7,414.8h0.6M132.9,424.2h0.6M126.4,423.3h0.6M128.6,424.4h0.6M133.9,421.5h0.6M128.3,424.0h0.6M137.2,416.8h0.6M128.2,421.6h0.6M137.3,417.0h0.6M132.4,424.0h0.6M131.4,420.4h0.6" stroke="#666" stroke-width="0.6" fill="none"/>
<rect x="86.70" y="432.00" width="4.56" height="0.90" fill="#7c80dc"/>
<path d="M88.07,447.12 L89.72,446.57 L91.86,444.87 L94.14,442.23 L95.84,439.84 L97.58,437.48 L99.45,435.25 L101.38,433.07 L101.16,432.87 L99.05,434.86 L96.86,436.78 L94.55,438.58 L92.21,440.35 L89.64,442.71 L88.00,444.89 L87.49,446.56Z" fill="#111"/>
<path d="M95.7,441.8h0.6M90.2,444.7h0.6M88.1,447.1h0.6M92.7,440.1h0.6M95.4,436.6h0.6M93.6,439.9h0.6M94.7,440.0h0.6M93.9,439.2h0.6M90.4,443.3h0.6M96.4,442.9h0.6M94.8,440.0h0.6M90.0,438.2h0.6M93.5,437.5h0.6M96.1,438.1h0.6" stroke="#666" stroke-width="0.6" fill="none"/>
<rect x="105.70" y="432.00" width="4.56" height="0.90" fill="#7c80dc"/>
<path d="M107.07,447.12 L108.72,446.57 L110.86,444.87 L113.14,442.23 L114.84,439.84 L116.58,437.48 L118.45,435.25 L120.38,433.07 L120.16,432.87 L118.05,434.86 L115.86,436.78 L113.55,438.58 L111.21,440.35 L108.64,442.71 L107.00,444.89 L106.49,446.56Z" fill="#111"/>
<path d="M110.7,439.6h0.6M117.9,434.8h0.6M117.7,440.5h0.6M107.5,441.3h0.6M116.1,442.4h0.6M107.5,444.2h0.6M107.7,444.8h0.6M109.9,444.0h0.6M106.5,444.7h0.6M115.5,433.5h0.6M108.2,444.5h0.6M106.5,443.1h0.6M118.5,436.8h0.6M118.1,434.8h0.6" stroke="#666" stroke-width="0.6" fill="none"/>
<rect x="124.70" y="432.00" width="4.56" height="0.90" fill="#7c80dc"/>
<path d="M126.07,447.12 L127.72,446.57 L129.86,444.87 L132.14,442.23 L133.84,439.84 L135.58,437.48 L137.45,435.25 L139.38,433.07 L139.16,432.87 L137.05,434.86 L134.86,436.78 L132.55,438.58 L130.21,440.35 L127.64,442.71 L126.00,444.89 L125.49,446.56Z" fill="#111"/>
<path d="M126.3,437.7h0.6M136.2,436.8h0.6M126.2,443.3h0.6M130.6,443.3h0.6M127.2,443.5h0.6M128.1,448.6h0.6M132.3,439.7h0.6M129.9,442.8h0.6M132.8,438.5h0.6M137.7,434.5h0.6M136.0,437.6h0.6M128.9,443.4h0.6M126.5,446.5h0.6M126.2,444.1h0.6" stroke="#666" stroke-width="0.6" fill="none"/>
<rect x="105.70" y="451.00" width="4.56" height="0.90" fill="#7c80dc"/>
<path d="M107.07,466.12 L108.72,465.57 L110.86,463.87 L113.14,461.23 L114.84,458.84 L116.58,456.48 L118.45,454.25 L120.38,452.07 L120.16,451.87 L118.05,453.86 L115.86,455.78 L113.55,457.58 L111.21,459.35 L108.64,461.71 L107.00,463.89 L106.49,465.56Z" fill="#111"/>
<path d="M114.2,462.8h0.6M108.5,461.2h0.6M110.2,465.6h0.6M114.4,456.2h0.6M109.9,466.7h0.6M112.7,461.3h0.6M109.5,466.8h0.6M115.7,455.1h0.6M108.1,465.1h0.6M116.8,454.7h0.6M111.3,459.2h0.6M119.6,455.8h0.6M111.2,463.7h0.6M110.9,464.1h0.6" stroke="#666" stroke-width="0.6" fill="none"/>
<rect x="124.70" y="451.00" width="4.56" height="0.90" fill="#7c80dc"/>
<path d="M126.07,466.12 L127.72,465.57 L129.86,463.87 L132.14,461.23 L133.84,458.84 L135.58,456.48 L137.45,454.25 L139.38,452.07 L139.16,451.87 L137.05,453.86 L134.86,455.78 L132.55,457.58 L130.21,459.35 L127.64,461.71 L126.00,463.89 L125.49,465.56Z" fill="#111"/>
<path d="M127.4,464.7h0.6M128.6,463.7h0.6M128.7,461.1h0.6M131.6,464.4h0.6M132.4,460.2h0.6M127.2,466.8h0.6M131.1,465.0h0.6M132.7,459.2h0.6M124.8,460.3h0.6M127.6,465.0h0.6M134.2,454.1h0.6M136.6,456.1h0.6M128.4,458.8h0.6M137.6,453.5h0.6" stroke="#666" stroke-width="0.6" fill="none"/>
<rect x="124.70" y="470.00" width="4.56" height="0.90" fill="#7c80dc"/>
<path d="M126.07,485.12 L127.72,484.57 L129.86,482.87 L132.14,480.23 L133.84,477.84 L135.58,475.48 L137.45,473.25 L139.38,471.07 L139.16,470.87 L137.05,472.86 L134.86,474.78 L132.55,476.58 L130.21,478.35 L127.64,480.71 L126.00,482.89 L125.49,484.56Z" fill="#111"/>
<path d="M131.1,481.6h0.6M131.5,475.0h0.6M130.4,479.5h0.6M127.7,483.6h0.6M126.6,483.9h0.6M126.7,481.7h0.6M128.4,485.3h0.6M131.5,474.1h0.6M129.3,481.4h0.6M132.6,480.3h0.6M126.6,481.8h0.6M137.8,473.2h0.6M136.6,471.7h0.6M137.2,472.5h0.6" stroke="#666" stroke-width="0.6" fill="none"/>
<line x1="27.50" y1="391.50" x2="142.50" y2="391.50" stroke="#2e2e2e" stroke-width="1.0"/>
<line x1="27.50" y1="411.50" x2="142.50" y2="411.50" stroke="#2e2e2e" stroke-width="1.0"/>
<line x1="27.50" y1="430.50" x2="142.50" y2="430.50" stroke="#2e2e2e" stroke-width="1.0"/>
<line x1="27.50" y1="449.50" x2="142.50" y2="449.50" stroke="#2e2e2e" stroke-width="1.0"/>
<line x1="27.50" y1="468.50" x2="142.50" y2="468.50" stroke="#2e2e2e" stroke-width="1.0"/>
<line x1="27.50" y1="487.50" x2="142.50" y2="487.50" stroke="#2e2e2e" stroke-width="1.0"/>
<line x1="27.50" y1="507.50" x2="142.50" y2="507.50" stroke="#2e2e2e" stroke-width="1.0"/>
<line x1="27.50" y1="391.50" x2="27.50" y2="507.50" stroke="#2e2e2e" stroke-width="1.0"/>
<line x1="46.50" y1="391.50" x2="46.50" y2="507.50" stroke="#2e2e2e" stroke-width="1.0"/>
<line x1="66.50" y1="391.50" x2="66.50" y2="507.50" stroke="#2e2e2e" stroke-width="1.0"/>
<line x1="85.50" y1="391.50" x2="85.50" y2="507.50" stroke="#2e2e2e" stroke-width="1.0"/>
<line x1="104.50" y1="391.50" x2="104.50" y2="507.50" stroke="#2e2e2e" stroke-width="1.0"/>
<line x1="123.50" y1="391.50" x2="123.50" y2="507.50" stroke="#2e2e2e" stroke-width="1.0"/>
<line x1="142.50" y1="391.50" x2="142.50" y2="507.50" stroke="#2e2e2e" stroke-width="1.0"/>
<rect x="27.50" y="411.50" width="19.00" height="19.00" fill="none" stroke="#2a0606" stroke-width="1.0"/>
<text x="37.00" y="423.40" font-size="5.9" text-anchor="middle" fill="#fdeeec" stroke="#fdeeec" stroke-width="0">0.954</text>
<rect x="27.50" y="430.50" width="19.00" height="19.00" fill="none" stroke="#2a0606" stroke-width="1.0"/>
<text x="37.00" y="442.40" font-size="5.9" text-anchor="middle" fill="#fdeeec" stroke="#fdeeec" stroke-width="0">0.955</text>
<rect x="46.50" y="430.50" width="20.00" height="19.00" fill="none" stroke="#2a0606" stroke-width="1.0"/>
<text x="56.50" y="442.40" font-size="5.9" text-anchor="middle" fill="#fdeeec" stroke="#fdeeec" stroke-width="0">0.945</text>
<rect x="27.50" y="449.50" width="19.00" height="19.00" fill="none" stroke="#2a0606" stroke-width="1.0"/>
<text x="37.00" y="461.40" font-size="5.9" text-anchor="middle" fill="#fdeeec" stroke="#fdeeec" stroke-width="0">0.946</text>
<rect x="46.50" y="449.50" width="20.00" height="19.00" fill="none" stroke="#2a0606" stroke-width="1.0"/>
<text x="56.50" y="461.40" font-size="5.9" text-anchor="middle" fill="#fdeeec" stroke="#fdeeec" stroke-width="0">0.963</text>
<rect x="66.50" y="449.50" width="19.00" height="19.00" fill="none" stroke="#2a0606" stroke-width="1.0"/>
<text x="76.00" y="461.40" font-size="5.9" text-anchor="middle" fill="#fdeeec" stroke="#fdeeec" stroke-width="0">0.939</text>
<rect x="27.50" y="468.50" width="19.00" height="19.00" fill="none" stroke="#2a0606" stroke-width="1.0"/>
<text x="37.00" y="480.40" font-size="5.9" text-anchor="middle" fill="#fdeeec" stroke="#fdeeec" stroke-width="0">0.948</text>
<rect x="46.50" y="468.50" width="20.00" height="19.00" fill="none" stroke="#2a0606" stroke-width="1.0"/>
<text x="56.50" y="480.40" font-size="5.9" text-anchor="middle" fill="#fdeeec" stroke="#fdeeec" stroke-width="0">0.965</text>
<rect x="66.50" y="468.50" width="19.00" height="19.00" fill="none" stroke="#2a0606" stroke-width="1.0"/>
<text x="76.00" y="480.40" font-size="5.9" text-anchor="middle" fill="#fdeeec" stroke="#fdeeec" stroke-width="0">0.942</text>
<rect x="85.50" y="468.50" width="19.00" height="19.00" fill="none" stroke="#2a0606" stroke-width="1.0"/>
<text x="95.00" y="480.40" font-size="5.9" text-anchor="middle" fill="#fdeeec" stroke="#fdeeec" stroke-width="0">0.96</text>
<rect x="27.50" y="487.50" width="19.00" height="20.00" fill="none" stroke="#2a0606" stroke-width="1.0"/>
<text x="37.00" y="499.90" font-size="5.9" text-anchor="middle" fill="#fdeeec" stroke="#fdeeec" stroke-width="0">0.949</text>
<rect x="46.50" y="487.50" width="20.00" height="20.00" fill="none" stroke="#2a0606" stroke-width="1.0"/>
<text x="56.50" y="499.90" font-size="5.9" text-anchor="middle" fill="#fdeeec" stroke="#fdeeec" stroke-width="0">0.962</text>
<rect x="66.50" y="487.50" width="19.00" height="20.00" fill="none" stroke="#2a0606" stroke-width="1.0"/>
<text x="76.00" y="499.90" font-size="5.9" text-anchor="middle" fill="#fdeeec" stroke="#fdeeec" stroke-width="0">0.934</text>
<rect x="85.50" y="487.50" width="19.00" height="20.00" fill="none" stroke="#2a0606" stroke-width="1.0"/>
<text x="95.00" y="499.90" font-size="5.9" text-anchor="middle" fill="#fdeeec" stroke="#fdeeec" stroke-width="0">0.962</text>
<rect x="104.50" y="487.50" width="19.00" height="20.00" fill="none" stroke="#2a0606" stroke-width="1.0"/>
<text x="114.00" y="499.90" font-size="5.9" text-anchor="middle" fill="#fdeeec" stroke="#fdeeec" stroke-width="0">0.971</text>
<rect x="27.50" y="391.50" width="115.00" height="116.00" fill="none" stroke="#2a2a2a" stroke-width="1.2"/>
<text x="0.00" y="0.00" font-size="7.2" text-anchor="middle" fill="#231f20" stroke="#231f20" stroke-width="0.24" transform="translate(37.00,389.10) scale(0.9,1)">HD1</text>
<text x="0.00" y="0.00" font-size="7.2" text-anchor="middle" fill="#231f20" stroke="#231f20" stroke-width="0.24" transform="translate(24.80,400.70) rotate(-90) scale(0.9,1)">HD1</text>
<text x="0.00" y="0.00" font-size="7.2" text-anchor="middle" fill="#231f20" stroke="#231f20" stroke-width="0.24" transform="translate(56.50,389.10) scale(0.9,1)">HD2</text>
<text x="0.00" y="0.00" font-size="7.2" text-anchor="middle" fill="#231f20" stroke="#231f20" stroke-width="0.24" transform="translate(24.80,420.20) rotate(-90) scale(0.9,1)">HD2</text>
<text x="0.00" y="0.00" font-size="7.2" text-anchor="middle" fill="#231f20" stroke="#231f20" stroke-width="0.24" transform="translate(76.00,389.10) scale(0.9,1)">HD3</text>
<text x="0.00" y="0.00" font-size="7.2" text-anchor="middle" fill="#231f20" stroke="#231f20" stroke-width="0.24" transform="translate(24.80,439.20) rotate(-90) scale(0.9,1)">HD3</text>
<text x="0.00" y="0.00" font-size="7.2" text-anchor="middle" fill="#231f20" stroke="#231f20" stroke-width="0.24" transform="translate(95.00,389.10) scale(0.9,1)">HD4</text>
<text x="0.00" y="0.00" font-size="7.2" text-anchor="middle" fill="#231f20" stroke="#231f20" stroke-width="0.24" transform="translate(24.80,458.20) rotate(-90) scale(0.9,1)">HD4</text>
<text x="0.00" y="0.00" font-size="7.2" text-anchor="middle" fill="#231f20" stroke="#231f20" stroke-width="0.24" transform="translate(114.00,389.10) scale(0.9,1)">HD5</text>
<text x="0.00" y="0.00" font-size="7.2" text-anchor="middle" fill="#231f20" stroke="#231f20" stroke-width="0.24" transform="translate(24.80,477.20) rotate(-90) scale(0.9,1)">HD5</text>
<text x="0.00" y="0.00" font-size="7.2" text-anchor="middle" fill="#231f20" stroke="#231f20" stroke-width="0.24" transform="translate(133.00,389.10) scale(0.9,1)">HD6</text>
<text x="0.00" y="0.00" font-size="7.2" text-anchor="middle" fill="#231f20" stroke="#231f20" stroke-width="0.24" transform="translate(24.80,496.70) rotate(-90) scale(0.9,1)">HD6</text>
<text x="85.60" y="516.40" font-size="6.6" text-anchor="middle" fill="#231f20" stroke="#231f20" stroke-width="0.1" textLength="11.20" lengthAdjust="spacingAndGlyphs">EEP</text>
<text x="0.00" y="0.00" font-size="12.0" text-anchor="start" fill="#231f20" stroke="#231f20" stroke-width="0.4" transform="translate(193.50,376.50) scale(0.9,1)">G</text>
<rect x="220.50" y="411.50" width="21.00" height="21.00" fill="#cb2118"/>
<rect x="220.50" y="432.50" width="21.00" height="21.00" fill="#cb2118"/>
<rect x="241.50" y="432.50" width="21.00" height="21.00" fill="#cb2118"/>
<rect x="220.50" y="453.50" width="21.00" height="20.00" fill="#cb2118"/>
<rect x="241.50" y="453.50" width="21.00" height="20.00" fill="#cb2118"/>
<rect x="262.50" y="453.50" width="20.00" height="20.00" fill="#cb2118"/>
<rect x="242.70" y="393.00" width="5.04" height="0.90" fill="#7c80dc"/>
<path d="M244.30,408.99 L246.05,408.39 L248.38,406.60 L250.93,403.82 L252.85,401.31 L254.81,398.84 L256.89,396.49 L259.03,394.21 L258.83,393.99 L256.50,396.09 L254.11,398.12 L251.59,400.03 L249.04,401.90 L246.22,404.38 L244.37,406.67 L243.74,408.41Z" fill="#111"/>
<path d="M248.1,404.6h0.6M249.2,403.7h0.6M249.5,401.5h0.6M250.8,402.1h0.6M244.0,408.6h0.6M250.0,404.1h0.6M245.8,409.4h0.6M247.3,405.8h0.6M249.6,398.7h0.6M252.4,399.6h0.6M254.6,400.3h0.6M247.4,403.4h0.6M258.6,397.1h0.6M254.5,402.1h0.6" stroke="#666" stroke-width="0.6" fill="none"/>
<rect x="263.70" y="393.00" width="4.80" height="0.90" fill="#7c80dc"/>
<path d="M265.19,408.98 L266.90,408.37 L269.14,406.57 L271.55,403.80 L273.36,401.30 L275.20,398.83 L277.17,396.49 L279.21,394.20 L278.99,394.00 L276.77,396.09 L274.48,398.13 L272.06,400.04 L269.61,401.92 L266.91,404.41 L265.18,406.70 L264.61,408.42Z" fill="#111"/>
<path d="M267.0,409.6h0.6M270.3,397.9h0.6M274.6,399.3h0.6M270.9,401.1h0.6M272.7,403.4h0.6M273.2,395.7h0.6M274.1,402.7h0.6M272.4,398.3h0.6M268.6,406.4h0.6M269.7,404.1h0.6M267.2,408.2h0.6M271.3,398.9h0.6M272.2,399.8h0.6M263.4,407.2h0.6" stroke="#666" stroke-width="0.6" fill="none"/>
<rect x="283.70" y="393.00" width="5.04" height="0.90" fill="#7c80dc"/>
<path d="M285.30,408.99 L287.05,408.39 L289.38,406.60 L291.93,403.82 L293.85,401.31 L295.81,398.84 L297.89,396.49 L300.03,394.21 L299.83,393.99 L297.50,396.09 L295.11,398.12 L292.59,400.03 L290.04,401.90 L287.22,404.38 L285.37,406.67 L284.74,408.41Z" fill="#111"/>
<path d="M295.7,398.2h0.6M290.5,400.0h0.6M296.0,402.2h0.6M289.3,406.3h0.6M285.8,407.5h0.6M290.0,408.3h0.6M296.6,400.6h0.6M289.9,403.4h0.6M290.5,401.4h0.6M291.1,398.4h0.6M294.3,401.0h0.6M288.8,405.7h0.6M294.4,398.3h0.6M286.9,410.3h0.6" stroke="#666" stroke-width="0.6" fill="none"/>
<rect x="263.70" y="413.00" width="4.80" height="0.90" fill="#7c80dc"/>
<path d="M265.19,429.83 L266.92,429.15 L269.16,427.24 L271.57,424.35 L273.37,421.74 L275.21,419.17 L277.18,416.72 L279.21,414.33 L278.99,414.13 L276.76,416.34 L274.47,418.49 L272.05,420.52 L269.59,422.51 L266.89,425.13 L265.16,427.52 L264.61,429.29Z" fill="#111"/>
<path d="M265.4,428.5h0.6M275.9,422.0h0.6M273.1,419.8h0.6M272.5,424.7h0.6M273.1,425.2h0.6M269.6,428.8h0.6M277.7,416.3h0.6M270.7,423.1h0.6M276.9,419.7h0.6M268.0,425.6h0.6M268.5,427.5h0.6M272.0,421.2h0.6M263.1,424.3h0.6M266.0,427.2h0.6" stroke="#666" stroke-width="0.6" fill="none"/>
<rect x="283.70" y="413.00" width="5.04" height="0.90" fill="#7c80dc"/>
<path d="M285.31,429.84 L287.07,429.17 L289.41,427.27 L291.95,424.37 L293.87,421.76 L295.82,419.18 L297.89,416.72 L300.04,414.33 L299.82,414.13 L297.49,416.33 L295.10,418.48 L292.58,420.50 L290.02,422.49 L287.19,425.11 L285.35,427.50 L284.73,429.28Z" fill="#111"/>
<path d="M293.0,415.3h0.6M294.3,419.7h0.6M289.4,427.7h0.6M284.4,428.3h0.6M283.5,428.0h0.6M289.2,425.5h0.6M286.2,426.9h0.6M297.3,419.0h0.6M285.1,429.5h0.6M283.9,425.2h0.6M296.7,416.1h0.6M285.9,422.6h0.6M285.9,420.4h0.6M296.2,424.6h0.6" stroke="#666" stroke-width="0.6" fill="none"/>
<rect x="283.70" y="434.00" width="5.04" height="0.90" fill="#7c80dc"/>
<path d="M285.31,450.84 L287.07,450.17 L289.41,448.27 L291.95,445.37 L293.87,442.76 L295.82,440.18 L297.89,437.72 L300.04,435.33 L299.82,435.13 L297.49,437.33 L295.10,439.48 L292.58,441.50 L290.02,443.49 L287.19,446.11 L285.35,448.50 L284.73,450.28Z" fill="#111"/>
<path d="M288.8,444.6h0.6M286.2,450.4h0.6M287.0,449.7h0.6M296.6,436.7h0.6M288.2,447.0h0.6M289.3,449.6h0.6M292.9,448.2h0.6M295.1,438.6h0.6M296.4,444.7h0.6M290.6,441.3h0.6M296.9,442.8h0.6M291.8,445.0h0.6M294.4,439.5h0.6M284.7,449.0h0.6" stroke="#666" stroke-width="0.6" fill="none"/>
<line x1="220.50" y1="391.50" x2="303.50" y2="391.50" stroke="#2e2e2e" stroke-width="1.0"/>
<line x1="220.50" y1="411.50" x2="303.50" y2="411.50" stroke="#2e2e2e" stroke-width="1.0"/>
<line x1="220.50" y1="432.50" x2="303.50" y2="432.50" stroke="#2e2e2e" stroke-width="1.0"/>
<line x1="220.50" y1="453.50" x2="303.50" y2="453.50" stroke="#2e2e2e" stroke-width="1.0"/>
<line x1="220.50" y1="473.50" x2="303.50" y2="473.50" stroke="#2e2e2e" stroke-width="1.0"/>
<line x1="220.50" y1="391.50" x2="220.50" y2="473.50" stroke="#2e2e2e" stroke-width="1.0"/>
<line x1="241.50" y1="391.50" x2="241.50" y2="473.50" stroke="#2e2e2e" stroke-width="1.0"/>
<line x1="262.50" y1="391.50" x2="262.50" y2="473.50" stroke="#2e2e2e" stroke-width="1.0"/>
<line x1="282.50" y1="391.50" x2="282.50" y2="473.50" stroke="#2e2e2e" stroke-width="1.0"/>
<line x1="303.50" y1="391.50" x2="303.50" y2="473.50" stroke="#2e2e2e" stroke-width="1.0"/>
<rect x="220.50" y="411.50" width="21.00" height="21.00" fill="none" stroke="#2a0606" stroke-width="1.0"/>
<text x="231.00" y="424.40" font-size="5.9" text-anchor="middle" fill="#fdeeec" stroke="#fdeeec" stroke-width="0">0.962</text>
<rect x="220.50" y="432.50" width="21.00" height="21.00" fill="none" stroke="#2a0606" stroke-width="1.0"/>
<text x="231.00" y="445.40" font-size="5.9" text-anchor="middle" fill="#fdeeec" stroke="#fdeeec" stroke-width="0">0.967</text>
<rect x="241.50" y="432.50" width="21.00" height="21.00" fill="none" stroke="#2a0606" stroke-width="1.0"/>
<text x="252.00" y="445.40" font-size="5.9" text-anchor="middle" fill="#fdeeec" stroke="#fdeeec" stroke-width="0">0.961</text>
<rect x="220.50" y="453.50" width="21.00" height="20.00" fill="none" stroke="#2a0606" stroke-width="1.0"/>
<text x="231.00" y="465.90" font-size="5.9" text-anchor="middle" fill="#fdeeec" stroke="#fdeeec" stroke-width="0">0.951</text>
<rect x="241.50" y="453.50" width="21.00" height="20.00" fill="none" stroke="#2a0606" stroke-width="1.0"/>
<text x="252.00" y="465.90" font-size="5.9" text-anchor="middle" fill="#fdeeec" stroke="#fdeeec" stroke-width="0">0.955</text>
<rect x="262.50" y="453.50" width="20.00" height="20.00" fill="none" stroke="#2a0606" stroke-width="1.0"/>
<text x="272.50" y="465.90" font-size="5.9" text-anchor="middle" fill="#fdeeec" stroke="#fdeeec" stroke-width="0">0.958</text>
<rect x="220.50" y="391.50" width="83.00" height="82.00" fill="none" stroke="#2a2a2a" stroke-width="1.2"/>
<text x="0.00" y="0.00" font-size="7.2" text-anchor="middle" fill="#231f20" stroke="#231f20" stroke-width="0.24" transform="translate(231.00,389.10) scale(0.9,1)">HD2</text>
<text x="0.00" y="0.00" font-size="7.2" text-anchor="middle" fill="#231f20" stroke="#231f20" stroke-width="0.24" transform="translate(218.40,400.70) rotate(-90) scale(0.9,1)">HD2</text>
<text x="0.00" y="0.00" font-size="7.2" text-anchor="middle" fill="#231f20" stroke="#231f20" stroke-width="0.24" transform="translate(252.00,389.10) scale(0.9,1)">HD4</text>
<text x="0.00" y="0.00" font-size="7.2" text-anchor="middle" fill="#231f20" stroke="#231f20" stroke-width="0.24" transform="translate(218.40,421.20) rotate(-90) scale(0.9,1)">HD4</text>
<text x="0.00" y="0.00" font-size="7.2" text-anchor="middle" fill="#231f20" stroke="#231f20" stroke-width="0.24" transform="translate(272.50,389.10) scale(0.9,1)">HD5</text>
<text x="0.00" y="0.00" font-size="7.2" text-anchor="middle" fill="#231f20" stroke="#231f20" stroke-width="0.24" transform="translate(218.40,442.20) rotate(-90) scale(0.9,1)">HD5</text>
<text x="0.00" y="0.00" font-size="7.2" text-anchor="middle" fill="#231f20" stroke="#231f20" stroke-width="0.24" transform="translate(293.00,389.10) scale(0.9,1)">HD6</text>
<text x="0.00" y="0.00" font-size="7.2" text-anchor="middle" fill="#231f20" stroke="#231f20" stroke-width="0.24" transform="translate(218.40,462.70) rotate(-90) scale(0.9,1)">HD6</text>
<text x="262.10" y="483.30" font-size="6.6" text-anchor="middle" fill="#231f20" stroke="#231f20" stroke-width="0.1" textLength="11.00" lengthAdjust="spacingAndGlyphs">EPP</text>
<text x="0.00" y="0.00" font-size="12.0" text-anchor="start" fill="#231f20" stroke="#231f20" stroke-width="0.4" transform="translate(353.40,376.40) scale(0.98,1)">H</text>
<rect x="374.50" y="409.50" width="19.00" height="19.00" fill="#cb2118"/>
<rect x="374.50" y="428.50" width="19.00" height="19.00" fill="#cb2118"/>
<rect x="393.50" y="428.50" width="19.00" height="19.00" fill="#cb2118"/>
<rect x="374.50" y="447.50" width="19.00" height="20.00" fill="#cb2118"/>
<rect x="393.50" y="447.50" width="19.00" height="20.00" fill="#cb2118"/>
<rect x="412.50" y="447.50" width="19.00" height="20.00" fill="#cb2118"/>
<rect x="374.50" y="467.50" width="19.00" height="19.00" fill="#cb2118"/>
<rect x="393.50" y="467.50" width="19.00" height="19.00" fill="#cb2118"/>
<rect x="412.50" y="467.50" width="19.00" height="19.00" fill="#cb2118"/>
<rect x="431.50" y="467.50" width="19.00" height="19.00" fill="#cb2118"/>
<rect x="374.50" y="486.50" width="19.00" height="19.00" fill="#cb2118"/>
<rect x="393.50" y="486.50" width="19.00" height="19.00" fill="#cb2118"/>
<rect x="412.50" y="486.50" width="19.00" height="19.00" fill="#cb2118"/>
<rect x="431.50" y="486.50" width="19.00" height="19.00" fill="#cb2118"/>
<rect x="450.50" y="486.50" width="19.00" height="19.00" fill="#cb2118"/>
<rect x="394.70" y="393.00" width="4.56" height="0.90" fill="#7c80dc"/>
<path d="M396.06,407.27 L397.70,406.79 L399.83,405.20 L402.12,402.69 L403.83,400.40 L405.57,398.14 L407.44,396.01 L409.37,393.95 L409.17,393.73 L407.05,395.61 L404.87,397.42 L402.57,399.11 L400.23,400.76 L397.67,402.98 L396.02,405.07 L395.50,406.69Z" fill="#111"/>
<path d="M408.1,397.1h0.6M401.1,404.1h0.6M399.1,403.2h0.6M395.1,400.0h0.6M403.2,398.6h0.6M402.3,404.1h0.6M398.3,405.5h0.6M407.6,397.1h0.6M402.4,401.7h0.6M410.9,398.3h0.6M401.8,402.3h0.6M397.6,406.6h0.6M400.8,403.8h0.6M399.5,404.5h0.6" stroke="#666" stroke-width="0.6" fill="none"/>
<rect x="413.70" y="393.00" width="4.56" height="0.90" fill="#7c80dc"/>
<path d="M415.06,407.27 L416.70,406.79 L418.83,405.20 L421.12,402.69 L422.83,400.40 L424.57,398.14 L426.44,396.01 L428.37,393.95 L428.17,393.73 L426.05,395.61 L423.87,397.42 L421.57,399.11 L419.23,400.76 L416.67,402.98 L415.02,405.07 L414.50,406.69Z" fill="#111"/>
<path d="M423.5,402.1h0.6M418.3,400.5h0.6M418.5,400.7h0.6M418.7,402.8h0.6M414.9,405.6h0.6M419.9,409.2h0.6M419.0,399.1h0.6M415.4,402.3h0.6M418.1,403.8h0.6M421.6,403.2h0.6M428.0,397.4h0.6M412.7,404.4h0.6M414.4,405.8h0.6M417.7,398.4h0.6" stroke="#666" stroke-width="0.6" fill="none"/>
<rect x="432.70" y="393.00" width="4.56" height="0.90" fill="#7c80dc"/>
<path d="M434.06,407.27 L435.70,406.79 L437.83,405.20 L440.12,402.69 L441.83,400.40 L443.57,398.14 L445.44,396.01 L447.37,393.95 L447.17,393.73 L445.05,395.61 L442.87,397.42 L440.57,399.11 L438.23,400.76 L435.67,402.98 L434.02,405.07 L433.50,406.69Z" fill="#111"/>
<path d="M442.3,401.5h0.6M445.0,396.0h0.6M446.1,399.6h0.6M433.9,401.0h0.6M436.1,406.7h0.6M443.5,400.4h0.6M444.9,395.5h0.6M441.1,395.9h0.6M439.0,401.2h0.6M443.2,397.6h0.6M438.4,406.0h0.6M436.5,402.4h0.6M435.3,405.4h0.6M444.2,400.8h0.6" stroke="#666" stroke-width="0.6" fill="none"/>
<rect x="451.70" y="393.00" width="4.56" height="0.90" fill="#7c80dc"/>
<path d="M453.06,407.27 L454.70,406.79 L456.83,405.20 L459.12,402.69 L460.83,400.40 L462.57,398.14 L464.44,396.01 L466.37,393.95 L466.17,393.73 L464.05,395.61 L461.87,397.42 L459.57,399.11 L457.23,400.76 L454.67,402.98 L453.02,405.07 L452.50,406.69Z" fill="#111"/>
<path d="M455.7,407.2h0.6M460.6,400.8h0.6M457.8,402.7h0.6M454.8,408.8h0.6M453.0,399.9h0.6M461.5,400.2h0.6M462.5,395.5h0.6M455.9,404.2h0.6M464.1,395.3h0.6M451.9,405.5h0.6M458.2,400.4h0.6M454.6,402.6h0.6M461.8,400.0h0.6M452.7,406.1h0.6" stroke="#666" stroke-width="0.6" fill="none"/>
<rect x="470.70" y="393.00" width="4.56" height="0.90" fill="#7c80dc"/>
<path d="M472.06,407.27 L473.70,406.79 L475.83,405.20 L478.12,402.69 L479.83,400.40 L481.57,398.14 L483.44,396.01 L485.37,393.95 L485.17,393.73 L483.05,395.61 L480.87,397.42 L478.57,399.11 L476.23,400.76 L473.67,402.98 L472.02,405.07 L471.50,406.69Z" fill="#111"/>
<path d="M474.0,401.1h0.6M475.2,405.7h0.6M481.3,397.4h0.6M472.6,402.9h0.6M482.6,394.5h0.6M477.0,406.7h0.6M474.5,404.4h0.6M482.2,394.5h0.6M478.2,401.5h0.6M477.8,403.0h0.6M480.6,399.9h0.6M476.3,402.1h0.6M475.1,405.2h0.6M472.3,406.2h0.6" stroke="#666" stroke-width="0.6" fill="none"/>
<rect x="413.70" y="411.00" width="4.56" height="0.90" fill="#7c80dc"/>
<path d="M415.07,426.12 L416.72,425.57 L418.86,423.87 L421.14,421.23 L422.84,418.84 L424.58,416.48 L426.45,414.25 L428.38,412.07 L428.16,411.87 L426.05,413.86 L423.86,415.78 L421.55,417.58 L419.21,419.35 L416.64,421.71 L415.00,423.89 L414.49,425.56Z" fill="#111"/>
<path d="M413.1,422.8h0.6M427.4,416.7h0.6M427.0,419.9h0.6M418.7,421.7h0.6M419.2,425.6h0.6M414.2,424.5h0.6M421.8,416.6h0.6M419.8,422.6h0.6M418.0,424.9h0.6M419.1,421.5h0.6M429.0,416.5h0.6M419.9,425.8h0.6M420.3,422.5h0.6M417.6,418.1h0.6" stroke="#666" stroke-width="0.6" fill="none"/>
<rect x="432.70" y="411.00" width="4.56" height="0.90" fill="#7c80dc"/>
<path d="M434.07,426.12 L435.72,425.57 L437.86,423.87 L440.14,421.23 L441.84,418.84 L443.58,416.48 L445.45,414.25 L447.38,412.07 L447.16,411.87 L445.05,413.86 L442.86,415.78 L440.55,417.58 L438.21,419.35 L435.64,421.71 L434.00,423.89 L433.49,425.56Z" fill="#111"/>
<path d="M433.0,423.9h0.6M445.2,414.6h0.6M434.1,421.5h0.6M436.5,427.7h0.6M439.7,421.6h0.6M432.0,423.1h0.6M437.2,428.3h0.6M438.1,423.8h0.6M443.9,417.5h0.6M436.3,421.7h0.6M444.6,413.1h0.6M441.7,416.2h0.6M437.6,421.9h0.6M443.1,416.5h0.6" stroke="#666" stroke-width="0.6" fill="none"/>
<rect x="451.70" y="411.00" width="4.56" height="0.90" fill="#7c80dc"/>
<path d="M453.07,426.12 L454.72,425.57 L456.86,423.87 L459.14,421.23 L460.84,418.84 L462.58,416.48 L464.45,414.25 L466.38,412.07 L466.16,411.87 L464.05,413.86 L461.86,415.78 L459.55,417.58 L457.21,419.35 L454.64,421.71 L453.00,423.89 L452.49,425.56Z" fill="#111"/>
<path d="M461.6,412.2h0.6M450.5,423.0h0.6M452.1,419.5h0.6M464.9,414.5h0.6M457.5,421.0h0.6M460.3,421.2h0.6M465.1,415.3h0.6M464.1,418.9h0.6M463.0,415.8h0.6M454.8,419.9h0.6M455.0,420.3h0.6M455.6,426.7h0.6M455.2,423.4h0.6M452.5,424.0h0.6" stroke="#666" stroke-width="0.6" fill="none"/>
<rect x="470.70" y="411.00" width="4.56" height="0.90" fill="#7c80dc"/>
<path d="M472.07,426.12 L473.72,425.57 L475.86,423.87 L478.14,421.23 L479.84,418.84 L481.58,416.48 L483.45,414.25 L485.38,412.07 L485.16,411.87 L483.05,413.86 L480.86,415.78 L478.55,417.58 L476.21,419.35 L473.64,421.71 L472.00,423.89 L471.49,425.56Z" fill="#111"/>
<path d="M471.0,424.2h0.6M483.3,413.2h0.6M483.6,415.9h0.6M472.7,424.7h0.6M470.7,422.4h0.6M477.2,420.3h0.6M472.9,421.2h0.6M481.0,418.4h0.6M482.1,417.7h0.6M471.5,422.6h0.6M481.5,414.9h0.6M478.1,422.9h0.6M481.1,417.0h0.6M475.8,423.8h0.6" stroke="#666" stroke-width="0.6" fill="none"/>
<rect x="432.70" y="430.00" width="4.56" height="0.90" fill="#7c80dc"/>
<path d="M434.07,445.12 L435.72,444.57 L437.86,442.87 L440.14,440.23 L441.84,437.84 L443.58,435.48 L445.45,433.25 L447.38,431.07 L447.16,430.87 L445.05,432.86 L442.86,434.78 L440.55,436.58 L438.21,438.35 L435.64,440.71 L434.00,442.89 L433.49,444.56Z" fill="#111"/>
<path d="M437.0,444.3h0.6M436.5,439.5h0.6M440.3,441.6h0.6M436.5,441.9h0.6M441.1,432.3h0.6M431.4,440.0h0.6M440.7,440.0h0.6M442.4,431.0h0.6M434.1,444.1h0.6M436.8,443.1h0.6M442.7,429.9h0.6M436.6,438.6h0.6M443.2,433.0h0.6M443.6,435.5h0.6" stroke="#666" stroke-width="0.6" fill="none"/>
<rect x="451.70" y="430.00" width="4.56" height="0.90" fill="#7c80dc"/>
<path d="M453.07,445.12 L454.72,444.57 L456.86,442.87 L459.14,440.23 L460.84,437.84 L462.58,435.48 L464.45,433.25 L466.38,431.07 L466.16,430.87 L464.05,432.86 L461.86,434.78 L459.55,436.58 L457.21,438.35 L454.64,440.71 L453.00,442.89 L452.49,444.56Z" fill="#111"/>
<path d="M465.8,434.5h0.6M461.5,438.3h0.6M454.9,441.6h0.6M455.8,442.9h0.6M454.2,440.0h0.6M454.0,441.1h0.6M451.9,443.7h0.6M456.9,444.4h0.6M457.3,441.7h0.6M461.9,440.4h0.6M454.7,445.2h0.6M460.3,438.8h0.6M461.3,437.6h0.6M461.7,436.6h0.6" stroke="#666" stroke-width="0.6" fill="none"/>
<rect x="470.70" y="430.00" width="4.56" height="0.90" fill="#7c80dc"/>
<path d="M472.07,445.12 L473.72,444.57 L475.86,442.87 L478.14,440.23 L479.84,437.84 L481.58,435.48 L483.45,433.25 L485.38,431.07 L485.16,430.87 L483.05,432.86 L480.86,434.78 L478.55,436.58 L476.21,438.35 L473.64,440.71 L472.00,442.89 L471.49,444.56Z" fill="#111"/>
<path d="M476.5,439.5h0.6M484.6,434.1h0.6M474.3,439.7h0.6M476.3,439.1h0.6M483.6,435.4h0.6M474.1,442.4h0.6M480.7,435.8h0.6M482.9,433.7h0.6M477.6,440.2h0.6M481.2,432.5h0.6M477.5,439.2h0.6M478.7,438.2h0.6M480.1,437.4h0.6M479.0,436.7h0.6" stroke="#666" stroke-width="0.6" fill="none"/>
<rect x="451.70" y="449.00" width="4.56" height="0.90" fill="#7c80dc"/>
<path d="M453.07,464.97 L454.74,464.35 L456.89,462.54 L459.17,459.78 L460.86,457.28 L462.59,454.82 L464.45,452.48 L466.38,450.20 L466.16,450.00 L464.04,452.10 L461.86,454.14 L459.54,456.06 L457.18,457.94 L454.61,460.44 L452.98,462.72 L452.49,464.43Z" fill="#111"/>
<path d="M456.5,459.1h0.6M456.2,461.0h0.6M459.7,458.4h0.6M458.4,458.0h0.6M463.5,455.0h0.6M454.1,462.8h0.6M465.9,453.8h0.6M453.2,463.8h0.6M461.6,450.3h0.6M462.4,458.5h0.6M464.2,455.1h0.6M457.7,463.8h0.6M459.3,460.8h0.6M452.7,460.2h0.6" stroke="#666" stroke-width="0.6" fill="none"/>
<rect x="470.70" y="449.00" width="4.56" height="0.90" fill="#7c80dc"/>
<path d="M472.07,464.97 L473.74,464.35 L475.89,462.54 L478.17,459.78 L479.86,457.28 L481.59,454.82 L483.45,452.48 L485.38,450.20 L485.16,450.00 L483.04,452.10 L480.86,454.14 L478.54,456.06 L476.18,457.94 L473.61,460.44 L471.98,462.72 L471.49,464.43Z" fill="#111"/>
<path d="M473.0,460.5h0.6M477.5,460.6h0.6M473.3,463.1h0.6M485.0,455.1h0.6M470.0,462.0h0.6M471.3,463.3h0.6M483.4,455.0h0.6M479.8,458.7h0.6M478.9,456.0h0.6M480.3,458.4h0.6M476.1,458.3h0.6M475.8,457.7h0.6M470.8,463.2h0.6M473.5,460.5h0.6" stroke="#666" stroke-width="0.6" fill="none"/>
<rect x="470.70" y="469.00" width="4.56" height="0.90" fill="#7c80dc"/>
<path d="M472.07,484.12 L473.72,483.57 L475.86,481.87 L478.14,479.23 L479.84,476.84 L481.58,474.48 L483.45,472.25 L485.38,470.07 L485.16,469.87 L483.05,471.86 L480.86,473.78 L478.55,475.58 L476.21,477.35 L473.64,479.71 L472.00,481.89 L471.49,483.56Z" fill="#111"/>
<path d="M481.3,474.6h0.6M472.4,480.1h0.6M478.1,478.5h0.6M477.5,478.9h0.6M471.3,481.1h0.6M472.9,483.9h0.6M481.5,477.9h0.6M482.4,475.3h0.6M479.6,479.0h0.6M476.9,479.7h0.6M485.2,473.8h0.6M486.0,473.5h0.6M481.0,475.1h0.6M482.8,470.7h0.6" stroke="#666" stroke-width="0.6" fill="none"/>
<line x1="374.50" y1="391.50" x2="488.50" y2="391.50" stroke="#2e2e2e" stroke-width="1.0"/>
<line x1="374.50" y1="409.50" x2="488.50" y2="409.50" stroke="#2e2e2e" stroke-width="1.0"/>
<line x1="374.50" y1="428.50" x2="488.50" y2="428.50" stroke="#2e2e2e" stroke-width="1.0"/>
<line x1="374.50" y1="447.50" x2="488.50" y2="447.50" stroke="#2e2e2e" stroke-width="1.0"/>
<line x1="374.50" y1="467.50" x2="488.50" y2="467.50" stroke="#2e2e2e" stroke-width="1.0"/>
<line x1="374.50" y1="486.50" x2="488.50" y2="486.50" stroke="#2e2e2e" stroke-width="1.0"/>
<line x1="374.50" y1="505.50" x2="488.50" y2="505.50" stroke="#2e2e2e" stroke-width="1.0"/>
<line x1="374.50" y1="391.50" x2="374.50" y2="505.50" stroke="#2e2e2e" stroke-width="1.0"/>
<line x1="393.50" y1="391.50" x2="393.50" y2="505.50" stroke="#2e2e2e" stroke-width="1.0"/>
<line x1="412.50" y1="391.50" x2="412.50" y2="505.50" stroke="#2e2e2e" stroke-width="1.0"/>
<line x1="431.50" y1="391.50" x2="431.50" y2="505.50" stroke="#2e2e2e" stroke-width="1.0"/>
<line x1="450.50" y1="391.50" x2="450.50" y2="505.50" stroke="#2e2e2e" stroke-width="1.0"/>
<line x1="469.50" y1="391.50" x2="469.50" y2="505.50" stroke="#2e2e2e" stroke-width="1.0"/>
<line x1="488.50" y1="391.50" x2="488.50" y2="505.50" stroke="#2e2e2e" stroke-width="1.0"/>
<rect x="374.50" y="409.50" width="19.00" height="19.00" fill="none" stroke="#2a0606" stroke-width="1.0"/>
<text x="384.00" y="421.40" font-size="5.9" text-anchor="middle" fill="#fdeeec" stroke="#fdeeec" stroke-width="0">0.96</text>
<rect x="374.50" y="428.50" width="19.00" height="19.00" fill="none" stroke="#2a0606" stroke-width="1.0"/>
<text x="384.00" y="440.40" font-size="5.9" text-anchor="middle" fill="#fdeeec" stroke="#fdeeec" stroke-width="0">0.954</text>
<rect x="393.50" y="428.50" width="19.00" height="19.00" fill="none" stroke="#2a0606" stroke-width="1.0"/>
<text x="403.00" y="440.40" font-size="5.9" text-anchor="middle" fill="#fdeeec" stroke="#fdeeec" stroke-width="0">0.95</text>
<rect x="374.50" y="447.50" width="19.00" height="20.00" fill="none" stroke="#2a0606" stroke-width="1.0"/>
<text x="384.00" y="459.90" font-size="5.9" text-anchor="middle" fill="#fdeeec" stroke="#fdeeec" stroke-width="0">0.958</text>
<rect x="393.50" y="447.50" width="19.00" height="20.00" fill="none" stroke="#2a0606" stroke-width="1.0"/>
<text x="403.00" y="459.90" font-size="5.9" text-anchor="middle" fill="#fdeeec" stroke="#fdeeec" stroke-width="0">0.963</text>
<rect x="412.50" y="447.50" width="19.00" height="20.00" fill="none" stroke="#2a0606" stroke-width="1.0"/>
<text x="422.00" y="459.90" font-size="5.9" text-anchor="middle" fill="#fdeeec" stroke="#fdeeec" stroke-width="0">0.95</text>
<rect x="374.50" y="467.50" width="19.00" height="19.00" fill="none" stroke="#2a0606" stroke-width="1.0"/>
<text x="384.00" y="479.40" font-size="5.9" text-anchor="middle" fill="#fdeeec" stroke="#fdeeec" stroke-width="0">0.963</text>
<rect x="393.50" y="467.50" width="19.00" height="19.00" fill="none" stroke="#2a0606" stroke-width="1.0"/>
<text x="403.00" y="479.40" font-size="5.9" text-anchor="middle" fill="#fdeeec" stroke="#fdeeec" stroke-width="0">0.969</text>
<rect x="412.50" y="467.50" width="19.00" height="19.00" fill="none" stroke="#2a0606" stroke-width="1.0"/>
<text x="422.00" y="479.40" font-size="5.9" text-anchor="middle" fill="#fdeeec" stroke="#fdeeec" stroke-width="0">0.953</text>
<rect x="431.50" y="467.50" width="19.00" height="19.00" fill="none" stroke="#2a0606" stroke-width="1.0"/>
<text x="441.00" y="479.40" font-size="5.9" text-anchor="middle" fill="#fdeeec" stroke="#fdeeec" stroke-width="0">0.963</text>
<rect x="374.50" y="486.50" width="19.00" height="19.00" fill="none" stroke="#2a0606" stroke-width="1.0"/>
<text x="384.00" y="498.40" font-size="5.9" text-anchor="middle" fill="#fdeeec" stroke="#fdeeec" stroke-width="0">0.958</text>
<rect x="393.50" y="486.50" width="19.00" height="19.00" fill="none" stroke="#2a0606" stroke-width="1.0"/>
<text x="403.00" y="498.40" font-size="5.9" text-anchor="middle" fill="#fdeeec" stroke="#fdeeec" stroke-width="0">0.958</text>
<rect x="412.50" y="486.50" width="19.00" height="19.00" fill="none" stroke="#2a0606" stroke-width="1.0"/>
<text x="422.00" y="498.40" font-size="5.9" text-anchor="middle" fill="#fdeeec" stroke="#fdeeec" stroke-width="0">0.944</text>
<rect x="431.50" y="486.50" width="19.00" height="19.00" fill="none" stroke="#2a0606" stroke-width="1.0"/>
<text x="441.00" y="498.40" font-size="5.9" text-anchor="middle" fill="#fdeeec" stroke="#fdeeec" stroke-width="0">0.956</text>
<rect x="450.50" y="486.50" width="19.00" height="19.00" fill="none" stroke="#2a0606" stroke-width="1.0"/>
<text x="460.00" y="498.40" font-size="5.9" text-anchor="middle" fill="#fdeeec" stroke="#fdeeec" stroke-width="0">0.967</text>
<rect x="374.50" y="391.50" width="114.00" height="114.00" fill="none" stroke="#2a2a2a" stroke-width="1.2"/>
<text x="0.00" y="0.00" font-size="7.2" text-anchor="middle" fill="#231f20" stroke="#231f20" stroke-width="0.24" transform="translate(384.00,389.10) scale(0.9,1)">HD1</text>
<text x="0.00" y="0.00" font-size="7.2" text-anchor="middle" fill="#231f20" stroke="#231f20" stroke-width="0.24" transform="translate(370.80,399.70) rotate(-90) scale(0.9,1)">HD1</text>
<text x="0.00" y="0.00" font-size="7.2" text-anchor="middle" fill="#231f20" stroke="#231f20" stroke-width="0.24" transform="translate(403.00,389.10) scale(0.9,1)">HD2</text>
<text x="0.00" y="0.00" font-size="7.2" text-anchor="middle" fill="#231f20" stroke="#231f20" stroke-width="0.24" transform="translate(370.80,418.20) rotate(-90) scale(0.9,1)">HD2</text>
<text x="0.00" y="0.00" font-size="7.2" text-anchor="middle" fill="#231f20" stroke="#231f20" stroke-width="0.24" transform="translate(422.00,389.10) scale(0.9,1)">HD3</text>
<text x="0.00" y="0.00" font-size="7.2" text-anchor="middle" fill="#231f20" stroke="#231f20" stroke-width="0.24" transform="translate(370.80,437.20) rotate(-90) scale(0.9,1)">HD3</text>
<text x="0.00" y="0.00" font-size="7.2" text-anchor="middle" fill="#231f20" stroke="#231f20" stroke-width="0.24" transform="translate(441.00,389.10) scale(0.9,1)">HD4</text>
<text x="0.00" y="0.00" font-size="7.2" text-anchor="middle" fill="#231f20" stroke="#231f20" stroke-width="0.24" transform="translate(370.80,456.70) rotate(-90) scale(0.9,1)">HD4</text>
<text x="0.00" y="0.00" font-size="7.2" text-anchor="middle" fill="#231f20" stroke="#231f20" stroke-width="0.24" transform="translate(460.00,389.10) scale(0.9,1)">HD5</text>
<text x="0.00" y="0.00" font-size="7.2" text-anchor="middle" fill="#231f20" stroke="#231f20" stroke-width="0.24" transform="translate(370.80,476.20) rotate(-90) scale(0.9,1)">HD5</text>
<text x="0.00" y="0.00" font-size="7.2" text-anchor="middle" fill="#231f20" stroke="#231f20" stroke-width="0.24" transform="translate(479.00,389.10) scale(0.9,1)">HD6</text>
<text x="0.00" y="0.00" font-size="7.2" text-anchor="middle" fill="#231f20" stroke="#231f20" stroke-width="0.24" transform="translate(370.80,495.20) rotate(-90) scale(0.9,1)">HD6</text>
<text x="431.80" y="515.60" font-size="6.6" text-anchor="middle" fill="#231f20" stroke="#231f20" stroke-width="0.1" textLength="14.60" lengthAdjust="spacingAndGlyphs">Retic</text>
<text x="5.50" y="546.70" font-size="12.0" text-anchor="start" fill="#231f20" stroke="#231f20" stroke-width="0.38">I</text>
<path d="M72.09,581.88 L74.29,580.39 L78.34,577.06 L81.44,572.84 L84.40,568.49 L87.13,564.63 L88.99,562.09 L87.91,561.07 L85.48,563.06 L81.77,565.98 L77.57,569.17 L73.52,572.49 L70.41,576.71 L69.04,578.99Z" fill="#c8c8c8"/>
<path d="M71.29,581.12 L73.59,579.72 L77.82,576.57 L81.10,572.52 L84.25,568.34 L87.14,564.63 L89.10,562.20 L87.80,560.96 L85.47,563.05 L81.92,566.13 L77.91,569.49 L74.04,572.99 L71.12,577.38 L69.84,579.74Z" fill="#6a6a6a"/>
<path d="M70.78,580.64 L73.08,579.23 L77.31,576.08 L80.60,572.04 L83.74,567.85 L86.63,564.15 L88.59,561.72 L88.30,561.44 L85.98,563.53 L82.43,566.62 L78.42,569.97 L74.55,573.47 L71.63,577.86 L70.35,580.22Z" fill="#0d0d0d"/>
<path d="M81.8,577.9h0.6M74.9,582.5h0.6M69.4,580.7h0.6M73.2,581.1h0.6M85.0,569.9h0.6M85.6,566.9h0.6M77.4,573.3h0.6M76.2,583.2h0.6M81.6,571.4h0.6M84.7,570.7h0.6M78.7,570.1h0.6M75.8,570.1h0.6M73.3,583.0h0.6M76.7,576.4h0.6M84.5,563.5h0.6M80.9,567.8h0.6M85.3,572.7h0.6M71.9,576.6h0.6M78.6,571.7h0.6M70.0,583.4h0.6M77.7,569.8h0.6M85.4,567.7h0.6M80.0,570.8h0.6M76.8,577.8h0.6M71.1,576.9h0.6M71.5,578.0h0.6M72.7,581.4h0.6M74.4,582.5h0.6M85.0,568.0h0.6M76.1,580.3h0.6M77.9,571.8h0.6M79.8,577.7h0.6M73.6,578.5h0.6M77.1,572.1h0.6M70.0,581.5h0.6M79.3,573.6h0.6M71.2,577.8h0.6M80.7,571.8h0.6M74.2,576.9h0.6M86.1,568.5h0.6M72.0,585.2h0.6M77.7,574.9h0.6M74.2,579.7h0.6M69.3,581.5h0.6M83.6,572.7h0.6M71.8,576.1h0.6M80.8,566.9h0.6M81.1,572.2h0.6M85.3,568.0h0.6M75.1,580.2h0.6M81.5,569.0h0.6M76.9,578.8h0.6M79.9,571.4h0.6M82.2,561.8h0.6M82.7,571.8h0.6M80.0,568.3h0.6M72.1,578.3h0.6M84.7,566.4h0.6M72.6,582.3h0.6M71.8,580.3h0.6M79.8,569.2h0.6M84.1,571.8h0.6M78.1,578.8h0.6M88.2,570.4h0.6M85.3,566.9h0.6M72.8,579.2h0.6M85.5,569.4h0.6M82.4,567.1h0.6M74.1,583.9h0.6M72.4,578.8h0.6M69.9,582.7h0.6M80.5,569.1h0.6M81.5,561.6h0.6M81.4,573.2h0.6M77.4,575.6h0.6M79.6,568.6h0.6M87.4,570.6h0.6M72.9,580.5h0.6M81.9,568.8h0.6M73.9,570.4h0.6M70.2,577.4h0.6M85.0,569.4h0.6M75.8,579.3h0.6M80.2,576.2h0.6M72.4,583.0h0.6M81.6,567.7h0.6M73.8,573.4h0.6M70.7,581.2h0.6M74.1,580.4h0.6M75.9,572.0h0.6M70.8,576.3h0.6M83.1,570.2h0.6M74.7,576.1h0.6M82.9,567.0h0.6M69.3,577.0h0.6M80.9,574.1h0.6M84.6,567.2h0.6M74.7,577.7h0.6M72.8,580.9h0.6M73.3,575.5h0.6M78.8,580.7h0.6M86.6,574.4h0.6M68.4,578.5h0.6M83.2,568.9h0.6M71.9,578.6h0.6M72.1,578.4h0.6M77.8,577.3h0.6M76.7,572.8h0.6M70.3,578.9h0.6M83.6,571.2h0.6" stroke="#4a4a4a" stroke-width="0.6" fill="none"/>
<path d="M89.4,560.6h0.7M91.1,558.8h0.7M92.5,557.3h0.7M94.0,555.8h0.7M68.8,579.9h0.7M67.6,582.3h0.7M66.5,584.5h0.7" stroke="#777" stroke-width="0.7" fill="none"/>
<path d="M104.09,581.44 L106.38,579.81 L110.11,576.48 L114.24,571.97 L118.02,567.89 L121.45,564.25 L123.73,561.82 L123.27,561.34 L120.74,563.52 L116.97,566.80 L112.73,570.40 L108.05,574.34 L104.57,577.92 L102.85,580.14Z" fill="#c8c8c8"/>
<path d="M103.96,581.29 L106.27,579.70 L110.05,576.42 L114.25,571.98 L118.08,567.96 L121.57,564.38 L123.88,561.98 L123.12,561.18 L120.63,563.39 L116.90,566.73 L112.72,570.39 L108.11,574.40 L104.68,578.04 L102.99,580.28Z" fill="#6a6a6a"/>
<path d="M103.68,581.00 L105.99,579.41 L109.77,576.13 L113.97,571.69 L117.80,567.67 L121.29,564.09 L123.60,561.69 L123.40,561.47 L120.90,563.68 L117.18,567.02 L113.00,570.68 L108.39,574.69 L104.96,578.32 L103.26,580.57Z" fill="#0d0d0d"/>
<path d="M112.8,570.0h0.6M114.4,572.2h0.6M116.0,568.1h0.6M105.1,577.0h0.6M111.9,569.9h0.6M119.8,566.4h0.6M115.3,567.5h0.6M121.4,566.3h0.6M105.1,580.3h0.6M112.5,574.4h0.6M111.5,572.6h0.6M114.3,571.7h0.6M110.0,576.0h0.6M113.0,568.7h0.6M104.8,581.6h0.6M102.4,581.5h0.6M100.7,581.4h0.6M114.2,569.4h0.6M105.6,578.5h0.6M111.9,573.5h0.6M109.1,575.7h0.6M116.8,569.1h0.6M109.7,573.4h0.6M118.9,564.1h0.6M117.5,568.3h0.6M106.5,576.8h0.6M116.0,566.1h0.6M106.0,577.2h0.6M109.6,575.0h0.6M115.0,569.4h0.6M106.0,576.0h0.6M113.0,570.5h0.6M119.4,566.0h0.6M118.8,569.3h0.6M104.9,580.9h0.6M104.5,585.3h0.6M113.9,570.7h0.6M104.4,580.3h0.6M109.4,577.8h0.6M117.7,569.5h0.6M113.4,571.9h0.6M119.0,566.9h0.6M104.7,578.6h0.6M113.5,567.0h0.6M112.0,572.5h0.6M103.7,579.8h0.6M111.1,575.0h0.6M108.8,571.4h0.6M102.3,583.3h0.6M111.1,571.3h0.6M106.1,573.3h0.6M101.9,580.3h0.6M100.7,580.8h0.6M117.7,564.1h0.6M108.8,570.9h0.6M101.8,581.8h0.6M108.6,577.2h0.6M108.6,572.1h0.6M104.4,577.8h0.6M112.4,573.0h0.6" stroke="#4a4a4a" stroke-width="0.6" fill="none"/>
<path d="M124.8,560.4h0.7M126.2,559.0h0.7M128.1,557.2h0.7M129.7,555.6h0.7M99.2,582.2h0.7M98.9,582.8h0.7M97.4,586.9h0.7" stroke="#777" stroke-width="0.7" fill="none"/>
<path d="M33.30,616.17 L35.68,614.90 L40.10,611.98 L43.68,608.07 L47.14,604.01 L50.30,600.42 L52.45,598.07 L51.49,596.94 L48.82,598.68 L44.78,601.24 L40.22,604.01 L35.79,606.92 L32.21,610.83 L30.58,612.98Z" fill="#c8c8c8"/>
<path d="M32.59,615.34 L35.04,614.16 L39.63,611.43 L43.38,607.71 L47.00,603.84 L50.31,600.43 L52.55,598.19 L51.38,596.82 L48.82,598.68 L44.92,601.41 L40.53,604.36 L36.26,607.47 L32.84,611.57 L31.29,613.81Z" fill="#6a6a6a"/>
<path d="M32.13,614.80 L34.59,613.63 L39.18,610.90 L42.93,607.18 L46.54,603.31 L49.86,599.89 L52.10,597.65 L51.84,597.35 L49.27,599.21 L45.37,601.94 L40.98,604.90 L36.71,608.01 L33.29,612.11 L31.74,614.35Z" fill="#0d0d0d"/>
<path d="M32.9,608.2h0.6M47.1,606.2h0.6M46.2,601.2h0.6M36.7,612.7h0.6M44.7,598.1h0.6M46.2,605.0h0.6M38.8,603.0h0.6M40.2,605.4h0.6M39.5,601.8h0.6M31.8,614.6h0.6M46.1,605.4h0.6M36.8,610.2h0.6M39.8,606.2h0.6M36.3,607.5h0.6M42.5,606.3h0.6M41.4,607.9h0.6M41.1,598.1h0.6M40.0,610.9h0.6M44.6,610.7h0.6M38.1,607.5h0.6M41.9,605.5h0.6M32.7,619.0h0.6M32.9,615.0h0.6M46.6,602.3h0.6M42.3,603.0h0.6M35.8,615.9h0.6M44.0,605.3h0.6M28.7,611.6h0.6M39.6,609.9h0.6M48.1,600.4h0.6M27.0,612.3h0.6M29.1,612.2h0.6M33.5,614.1h0.6M28.7,612.5h0.6M37.4,608.1h0.6M42.5,600.3h0.6M40.0,603.9h0.6M47.1,606.2h0.6M40.3,606.5h0.6M45.9,597.5h0.6M31.1,604.8h0.6M44.1,600.9h0.6M38.8,610.1h0.6M38.9,600.4h0.6M45.2,603.1h0.6M32.4,609.0h0.6M45.7,603.3h0.6M45.4,602.3h0.6M38.6,604.4h0.6M42.0,599.3h0.6M37.8,612.1h0.6M44.5,602.7h0.6M46.7,600.0h0.6M41.6,603.8h0.6M33.2,610.3h0.6M40.4,610.9h0.6M43.7,602.6h0.6M47.8,602.7h0.6M37.8,607.1h0.6M33.4,613.0h0.6M34.9,608.1h0.6M39.9,608.0h0.6M48.0,599.1h0.6M41.7,605.7h0.6M39.2,604.2h0.6M34.8,621.2h0.6M44.1,599.6h0.6M34.3,611.3h0.6M46.6,599.4h0.6M48.0,600.3h0.6M33.7,613.0h0.6M27.1,610.9h0.6M41.5,612.2h0.6M29.2,613.0h0.6M33.3,615.6h0.6M36.2,601.9h0.6M40.6,603.0h0.6M37.5,619.0h0.6M35.2,614.0h0.6M38.5,612.8h0.6M48.2,605.5h0.6M38.4,598.8h0.6M31.5,616.0h0.6M46.5,599.5h0.6M40.8,606.2h0.6M35.6,610.4h0.6M39.1,608.5h0.6M32.4,613.7h0.6M43.5,604.6h0.6M46.2,599.6h0.6M46.8,602.7h0.6M40.4,611.4h0.6M44.0,600.3h0.6M36.3,610.7h0.6M42.1,606.4h0.6M29.4,613.5h0.6M33.1,614.4h0.6M37.9,609.8h0.6M44.9,601.5h0.6M36.0,604.5h0.6M32.6,615.1h0.6M45.9,600.5h0.6M38.0,607.4h0.6M28.3,606.6h0.6M49.4,600.7h0.6M35.7,611.9h0.6M40.1,600.2h0.6M30.0,615.7h0.6M35.8,617.7h0.6M39.8,607.5h0.6" stroke="#4a4a4a" stroke-width="0.6" fill="none"/>
<path d="M53.3,596.4h0.7M54.5,595.3h0.7M56.6,593.5h0.7M58.1,592.3h0.7M31.1,617.5h0.7M28.2,617.0h0.7M26.7,619.6h0.7" stroke="#777" stroke-width="0.7" fill="none"/>
<path d="M105.54,615.11 L107.81,613.95 L112.02,611.24 L115.39,607.55 L118.63,603.69 L121.60,600.30 L123.62,598.07 L122.67,596.94 L120.13,598.55 L116.28,600.92 L111.94,603.47 L107.73,606.17 L104.36,609.86 L102.83,611.90Z" fill="#c8c8c8"/>
<path d="M104.83,614.27 L107.18,613.21 L111.55,610.69 L115.08,607.19 L118.49,603.53 L121.61,600.30 L123.72,598.19 L122.56,596.81 L120.13,598.54 L116.42,601.08 L112.25,603.82 L108.20,606.72 L104.99,610.61 L103.54,612.74Z" fill="#6a6a6a"/>
<path d="M104.38,613.74 L106.73,612.67 L111.10,610.16 L114.63,606.65 L118.04,602.99 L121.16,599.77 L123.27,597.66 L123.01,597.35 L120.58,599.08 L116.88,601.62 L112.70,604.36 L108.65,607.25 L105.44,611.14 L103.99,613.28Z" fill="#0d0d0d"/>
<path d="M111.9,604.2h0.6M103.1,608.5h0.6M115.6,601.3h0.6M102.4,612.8h0.6M117.6,606.9h0.6M108.6,610.4h0.6M114.6,611.7h0.6M111.3,608.3h0.6M105.7,612.3h0.6M102.8,609.7h0.6M100.4,612.8h0.6M112.5,608.4h0.6M117.4,603.1h0.6M112.0,600.6h0.6M104.7,615.7h0.6M109.1,605.0h0.6M116.0,611.7h0.6M106.3,611.6h0.6M106.8,611.3h0.6M103.1,612.6h0.6M100.1,611.9h0.6M111.1,606.4h0.6M117.6,601.4h0.6M102.5,610.8h0.6M107.9,611.6h0.6M101.0,608.6h0.6M101.8,609.1h0.6M105.2,612.5h0.6M105.6,604.9h0.6M107.3,601.8h0.6M115.1,601.8h0.6M103.0,603.7h0.6M118.5,605.0h0.6M119.1,604.1h0.6M120.4,601.6h0.6M108.2,606.7h0.6M113.1,608.5h0.6M112.2,608.4h0.6M118.3,598.7h0.6M113.2,604.9h0.6M120.3,604.1h0.6M105.8,609.6h0.6M113.6,608.6h0.6M104.9,609.1h0.6M118.3,599.4h0.6M114.8,606.2h0.6M118.1,598.9h0.6M109.7,606.8h0.6M104.9,613.7h0.6M108.7,607.8h0.6M100.3,609.5h0.6M110.5,602.6h0.6M104.5,610.4h0.6M110.1,604.3h0.6M107.3,609.7h0.6M109.1,604.4h0.6M99.1,610.9h0.6M104.4,608.9h0.6M108.8,612.4h0.6M116.3,603.4h0.6M117.3,601.1h0.6M106.2,605.6h0.6M102.7,611.6h0.6M115.8,604.1h0.6M106.5,607.2h0.6M117.5,602.1h0.6M114.0,601.9h0.6M110.0,606.9h0.6M119.8,602.4h0.6M101.4,613.9h0.6M113.1,609.7h0.6M108.7,607.5h0.6M111.2,603.5h0.6M109.6,607.0h0.6M107.5,607.0h0.6M107.1,609.1h0.6M110.1,606.1h0.6M108.2,611.0h0.6M114.9,608.8h0.6M108.5,610.6h0.6M119.1,600.0h0.6M119.2,601.9h0.6M108.7,602.0h0.6M109.6,595.5h0.6M108.9,604.1h0.6M106.9,606.4h0.6M110.6,612.1h0.6M112.6,608.1h0.6M107.0,606.1h0.6M119.8,603.7h0.6M104.1,601.2h0.6M105.1,605.9h0.6M101.2,607.5h0.6M116.3,601.5h0.6M115.7,598.3h0.6M120.9,600.9h0.6M103.6,610.9h0.6M111.3,607.3h0.6M111.9,603.4h0.6M119.7,599.4h0.6M109.3,608.4h0.6M116.1,606.3h0.6M114.6,599.0h0.6M103.7,609.6h0.6M104.9,608.5h0.6M118.3,597.6h0.6M104.8,613.6h0.6M104.7,614.1h0.6M111.6,607.1h0.6M117.0,603.1h0.6" stroke="#4a4a4a" stroke-width="0.6" fill="none"/>
<path d="M124.3,596.5h0.7M125.7,595.4h0.7M127.7,593.7h0.7M129.1,592.5h0.7M103.1,615.5h0.7M102.5,617.7h0.7M98.1,617.5h0.7" stroke="#777" stroke-width="0.7" fill="none"/>
<path d="M32.56,653.28 L34.99,651.51 L38.97,647.92 L43.42,643.10 L47.48,638.74 L51.18,634.85 L53.63,632.24 L53.17,631.76 L50.47,634.11 L46.44,637.65 L41.91,641.53 L36.92,645.79 L33.18,649.63 L31.31,651.98Z" fill="#c8c8c8"/>
<path d="M32.42,653.14 L34.88,651.40 L38.92,647.86 L43.43,643.11 L47.55,638.80 L51.29,634.97 L53.78,632.40 L53.02,631.61 L50.35,633.99 L46.37,637.58 L41.91,641.52 L36.98,645.85 L33.29,649.74 L31.45,652.13Z" fill="#6a6a6a"/>
<path d="M32.15,652.85 L34.60,651.11 L38.64,647.58 L43.15,642.82 L47.27,638.52 L51.02,634.68 L53.50,632.11 L53.29,631.89 L50.63,634.28 L46.65,637.87 L42.18,641.81 L37.25,646.13 L33.56,650.03 L31.73,652.41Z" fill="#0d0d0d"/>
<path d="M38.7,645.6h0.6M45.5,634.7h0.6M38.1,645.4h0.6M32.7,655.9h0.6M37.9,650.2h0.6M33.7,646.4h0.6M40.7,645.8h0.6M37.6,646.9h0.6M37.0,649.6h0.6M46.0,639.2h0.6M38.2,648.9h0.6M35.2,648.5h0.6M39.8,643.4h0.6M32.6,655.0h0.6M37.0,647.8h0.6M35.6,649.2h0.6M43.0,641.3h0.6M44.9,641.6h0.6M47.6,639.2h0.6M47.1,638.5h0.6M36.8,647.6h0.6M50.0,636.6h0.6M40.3,645.0h0.6M32.2,651.9h0.6M47.2,636.1h0.6M34.2,649.2h0.6M48.5,638.6h0.6M40.6,643.8h0.6M36.8,646.3h0.6M35.8,648.2h0.6M34.0,651.8h0.6M44.4,642.9h0.6M36.2,646.6h0.6M30.8,653.1h0.6M32.2,652.0h0.6M39.6,648.5h0.6M48.2,637.8h0.6M37.1,651.0h0.6M42.6,641.0h0.6M43.0,641.5h0.6M46.1,637.1h0.6M35.3,653.0h0.6M44.7,640.2h0.6M31.0,654.3h0.6M35.7,648.5h0.6M35.7,648.1h0.6M45.3,636.6h0.6M33.4,648.1h0.6M39.0,650.0h0.6M45.5,639.4h0.6M46.9,637.7h0.6M36.3,651.5h0.6M35.7,652.2h0.6M31.2,652.6h0.6M45.5,640.5h0.6M32.7,654.1h0.6M48.1,635.8h0.6M45.9,637.6h0.6M30.5,653.2h0.6M40.7,645.2h0.6" stroke="#4a4a4a" stroke-width="0.6" fill="none"/>
<path d="M54.7,630.8h0.7M56.0,629.5h0.7M58.5,627.1h0.7M60.5,625.1h0.7M30.1,655.5h0.7M29.5,656.1h0.7M25.2,658.2h0.7" stroke="#777" stroke-width="0.7" fill="none"/>
<path d="M72.08,652.67 L74.28,651.22 L78.32,647.97 L81.43,643.82 L84.39,639.53 L87.12,635.73 L88.98,633.23 L87.92,632.20 L85.48,634.14 L81.78,637.00 L77.59,640.11 L73.54,643.35 L70.43,647.50 L69.06,649.75Z" fill="#c8c8c8"/>
<path d="M71.28,651.90 L73.58,650.54 L77.80,647.47 L81.09,643.49 L84.23,639.37 L87.13,635.73 L89.10,633.34 L87.80,632.09 L85.48,634.13 L81.93,637.15 L77.93,640.43 L74.06,643.85 L71.13,648.18 L69.85,650.51Z" fill="#6a6a6a"/>
<path d="M70.78,651.42 L73.07,650.05 L77.30,646.98 L80.59,643.00 L83.73,638.89 L86.63,635.25 L88.59,632.85 L88.31,632.57 L85.98,634.62 L82.44,637.64 L78.43,640.92 L74.57,644.34 L71.64,648.66 L70.35,651.00Z" fill="#0d0d0d"/>
<path d="M69.4,651.6h0.6M72.3,649.6h0.6M80.8,640.6h0.6M71.0,647.0h0.6M84.4,636.4h0.6M86.3,640.0h0.6M76.5,649.2h0.6M84.3,642.3h0.6M76.3,639.9h0.6M84.6,640.1h0.6M75.4,647.2h0.6M76.0,650.5h0.6M78.2,647.0h0.6M76.5,644.6h0.6M76.0,657.6h0.6M84.9,643.1h0.6M84.8,635.2h0.6M76.2,643.6h0.6M82.3,647.7h0.6M78.4,640.4h0.6M80.6,642.3h0.6M74.6,654.0h0.6M83.3,638.6h0.6M83.9,646.0h0.6M74.3,652.6h0.6M81.4,640.0h0.6M82.9,638.7h0.6M77.1,642.4h0.6M75.5,651.4h0.6M82.1,644.6h0.6M86.6,639.5h0.6M78.8,645.8h0.6M81.9,646.0h0.6M67.9,646.6h0.6M72.5,653.6h0.6M72.1,649.8h0.6M86.5,641.6h0.6M76.9,646.4h0.6M76.5,643.0h0.6M76.1,645.2h0.6M85.7,638.6h0.6M75.1,644.1h0.6M74.0,651.4h0.6M81.0,649.2h0.6M88.6,642.8h0.6M79.9,642.7h0.6M79.6,640.5h0.6M80.9,645.3h0.6M80.1,642.0h0.6M85.1,638.8h0.6M79.7,640.5h0.6M79.2,640.7h0.6M73.7,643.7h0.6M76.8,647.4h0.6M83.2,636.7h0.6M83.9,638.3h0.6M78.9,644.8h0.6M79.8,644.9h0.6M68.3,648.8h0.6M69.7,651.3h0.6M78.8,647.8h0.6M81.5,641.0h0.6M85.9,635.9h0.6M82.4,638.0h0.6M82.8,634.0h0.6M71.5,651.1h0.6M72.7,648.8h0.6M80.1,643.8h0.6M78.2,638.2h0.6M81.9,644.7h0.6M85.6,638.1h0.6M81.2,639.7h0.6M81.2,642.0h0.6M77.2,648.5h0.6M83.9,643.1h0.6M67.8,648.7h0.6M73.9,654.2h0.6M74.8,650.3h0.6M82.5,637.8h0.6M72.9,656.3h0.6M70.7,648.7h0.6M80.1,640.6h0.6M81.2,635.3h0.6M82.9,639.2h0.6M76.8,649.2h0.6M84.0,638.1h0.6M74.4,652.3h0.6M74.5,645.2h0.6M81.4,636.6h0.6M81.1,644.2h0.6M75.2,652.0h0.6M71.2,653.9h0.6M75.5,643.7h0.6M77.3,649.3h0.6M76.6,649.3h0.6M86.7,636.9h0.6M80.8,641.8h0.6M78.4,645.4h0.6M84.2,650.0h0.6M67.0,650.2h0.6M85.4,639.5h0.6M79.2,641.6h0.6M87.1,643.7h0.6M80.9,641.6h0.6M78.8,637.6h0.6M73.2,645.5h0.6M69.7,651.9h0.6M83.9,634.1h0.6M74.0,649.8h0.6M75.0,654.4h0.6" stroke="#4a4a4a" stroke-width="0.6" fill="none"/>
<path d="M89.3,631.8h0.7M90.9,630.2h0.7M92.6,628.4h0.7M94.0,626.9h0.7M69.3,653.0h0.7M67.1,655.4h0.7M65.4,655.1h0.7" stroke="#777" stroke-width="0.7" fill="none"/>
<text x="61.80" y="561.90" font-size="7.2" text-anchor="start" fill="#4f69a6" stroke="#4f69a6" stroke-width="0.15" textLength="15.70" lengthAdjust="spacingAndGlyphs">0.878</text>
<text x="101.50" y="561.90" font-size="7.2" text-anchor="start" fill="#4f69a6" stroke="#4f69a6" stroke-width="0.15" textLength="15.70" lengthAdjust="spacingAndGlyphs">0.973</text>
<text x="28.00" y="595.40" font-size="7.2" text-anchor="start" fill="#4f69a6" stroke="#4f69a6" stroke-width="0.15" textLength="15.70" lengthAdjust="spacingAndGlyphs">0.878</text>
<text x="100.80" y="595.80" font-size="7.2" text-anchor="start" fill="#4f69a6" stroke="#4f69a6" stroke-width="0.15" textLength="15.80" lengthAdjust="spacingAndGlyphs">0.876</text>
<text x="27.50" y="632.60" font-size="7.2" text-anchor="start" fill="#4f69a6" stroke="#4f69a6" stroke-width="0.15" textLength="15.80" lengthAdjust="spacingAndGlyphs">0.973</text>
<text x="64.90" y="630.80" font-size="7.2" text-anchor="start" fill="#4f69a6" stroke="#4f69a6" stroke-width="0.15" textLength="15.80" lengthAdjust="spacingAndGlyphs">0.876</text>
<rect x="25.50" y="553.40" width="107.30" height="106.70" fill="none" stroke="#1a1a1a" stroke-width="1.4"/>
<text x="0.00" y="0.00" font-size="8.6" text-anchor="middle" fill="#231f20" stroke="#231f20" stroke-width="0.22" transform="translate(19.90,566.30) rotate(-90)" textLength="12.90" lengthAdjust="spacingAndGlyphs">EEP</text>
<text x="0.00" y="0.00" font-size="8.6" text-anchor="middle" fill="#231f20" stroke="#231f20" stroke-width="0.22" transform="translate(19.90,606.80) rotate(-90)" textLength="17.90" lengthAdjust="spacingAndGlyphs">Retic</text>
<text x="0.00" y="0.00" font-size="8.6" text-anchor="middle" fill="#231f20" stroke="#231f20" stroke-width="0.22" transform="translate(19.90,646.80) rotate(-90)" textLength="13.50" lengthAdjust="spacingAndGlyphs">EPP</text>
<text x="40.00" y="671.30" font-size="8.6" text-anchor="middle" fill="#231f20" stroke="#231f20" stroke-width="0.22" textLength="13.50" lengthAdjust="spacingAndGlyphs">EEP</text>
<text x="79.90" y="671.30" font-size="8.6" text-anchor="middle" fill="#231f20" stroke="#231f20" stroke-width="0.22" textLength="18.80" lengthAdjust="spacingAndGlyphs">Retic</text>
<text x="122.90" y="671.30" font-size="8.6" text-anchor="middle" fill="#231f20" stroke="#231f20" stroke-width="0.22" textLength="13.20" lengthAdjust="spacingAndGlyphs">EPP</text>
<text x="0.00" y="0.00" font-size="12.0" text-anchor="start" fill="#231f20" stroke="#231f20" stroke-width="0.38" transform="translate(191.80,546.80) scale(0.94,1)">J</text>
<text x="0.00" y="0.00" font-size="10.3" text-anchor="middle" fill="#231f20" stroke="#231f20" stroke-width="0.22" transform="translate(209.80,606.60) rotate(-90) scale(0.92,1)" textLength="163.80" lengthAdjust="spacing">Protein copy number (dilution 1/2)</text>
<text x="0.00" y="0.00" font-size="10.2" text-anchor="middle" fill="#231f20" stroke="#231f20" stroke-width="0.22" transform="translate(300.20,704.60) scale(0.92,1)" textLength="155.11" lengthAdjust="spacing">Protein copy number (dilution 1)</text>
<line x1="248.30" y1="656.37" x2="250.70" y2="656.37" stroke="#231f20" stroke-width="0.75"/>
<line x1="248.30" y1="654.01" x2="250.70" y2="654.01" stroke="#231f20" stroke-width="0.75"/>
<line x1="248.30" y1="652.34" x2="250.70" y2="652.34" stroke="#231f20" stroke-width="0.75"/>
<line x1="248.30" y1="651.04" x2="250.70" y2="651.04" stroke="#231f20" stroke-width="0.75"/>
<line x1="248.30" y1="649.98" x2="250.70" y2="649.98" stroke="#231f20" stroke-width="0.75"/>
<line x1="248.30" y1="649.09" x2="250.70" y2="649.09" stroke="#231f20" stroke-width="0.75"/>
<line x1="248.30" y1="648.31" x2="250.70" y2="648.31" stroke="#231f20" stroke-width="0.75"/>
<line x1="248.30" y1="647.63" x2="250.70" y2="647.63" stroke="#231f20" stroke-width="0.75"/>
<line x1="248.30" y1="642.98" x2="250.70" y2="642.98" stroke="#231f20" stroke-width="0.75"/>
<line x1="248.30" y1="640.63" x2="250.70" y2="640.63" stroke="#231f20" stroke-width="0.75"/>
<line x1="248.30" y1="638.95" x2="250.70" y2="638.95" stroke="#231f20" stroke-width="0.75"/>
<line x1="248.30" y1="637.66" x2="250.70" y2="637.66" stroke="#231f20" stroke-width="0.75"/>
<line x1="248.30" y1="636.60" x2="250.70" y2="636.60" stroke="#231f20" stroke-width="0.75"/>
<line x1="248.30" y1="635.70" x2="250.70" y2="635.70" stroke="#231f20" stroke-width="0.75"/>
<line x1="248.30" y1="634.92" x2="250.70" y2="634.92" stroke="#231f20" stroke-width="0.75"/>
<line x1="248.30" y1="634.24" x2="250.70" y2="634.24" stroke="#231f20" stroke-width="0.75"/>
<line x1="248.30" y1="629.59" x2="250.70" y2="629.59" stroke="#231f20" stroke-width="0.75"/>
<line x1="248.30" y1="627.24" x2="250.70" y2="627.24" stroke="#231f20" stroke-width="0.75"/>
<line x1="248.30" y1="625.56" x2="250.70" y2="625.56" stroke="#231f20" stroke-width="0.75"/>
<line x1="248.30" y1="624.27" x2="250.70" y2="624.27" stroke="#231f20" stroke-width="0.75"/>
<line x1="248.30" y1="623.21" x2="250.70" y2="623.21" stroke="#231f20" stroke-width="0.75"/>
<line x1="248.30" y1="622.31" x2="250.70" y2="622.31" stroke="#231f20" stroke-width="0.75"/>
<line x1="248.30" y1="621.53" x2="250.70" y2="621.53" stroke="#231f20" stroke-width="0.75"/>
<line x1="248.30" y1="620.85" x2="250.70" y2="620.85" stroke="#231f20" stroke-width="0.75"/>
<line x1="248.30" y1="616.21" x2="250.70" y2="616.21" stroke="#231f20" stroke-width="0.75"/>
<line x1="248.30" y1="613.85" x2="250.70" y2="613.85" stroke="#231f20" stroke-width="0.75"/>
<line x1="248.30" y1="612.18" x2="250.70" y2="612.18" stroke="#231f20" stroke-width="0.75"/>
<line x1="248.30" y1="610.88" x2="250.70" y2="610.88" stroke="#231f20" stroke-width="0.75"/>
<line x1="248.30" y1="609.82" x2="250.70" y2="609.82" stroke="#231f20" stroke-width="0.75"/>
<line x1="248.30" y1="608.92" x2="250.70" y2="608.92" stroke="#231f20" stroke-width="0.75"/>
<line x1="248.30" y1="608.15" x2="250.70" y2="608.15" stroke="#231f20" stroke-width="0.75"/>
<line x1="248.30" y1="607.46" x2="250.70" y2="607.46" stroke="#231f20" stroke-width="0.75"/>
<line x1="248.30" y1="602.82" x2="250.70" y2="602.82" stroke="#231f20" stroke-width="0.75"/>
<line x1="248.30" y1="600.46" x2="250.70" y2="600.46" stroke="#231f20" stroke-width="0.75"/>
<line x1="248.30" y1="598.79" x2="250.70" y2="598.79" stroke="#231f20" stroke-width="0.75"/>
<line x1="248.30" y1="597.49" x2="250.70" y2="597.49" stroke="#231f20" stroke-width="0.75"/>
<line x1="248.30" y1="596.43" x2="250.70" y2="596.43" stroke="#231f20" stroke-width="0.75"/>
<line x1="248.30" y1="595.54" x2="250.70" y2="595.54" stroke="#231f20" stroke-width="0.75"/>
<line x1="248.30" y1="594.76" x2="250.70" y2="594.76" stroke="#231f20" stroke-width="0.75"/>
<line x1="248.30" y1="594.08" x2="250.70" y2="594.08" stroke="#231f20" stroke-width="0.75"/>
<line x1="248.30" y1="589.43" x2="250.70" y2="589.43" stroke="#231f20" stroke-width="0.75"/>
<line x1="248.30" y1="587.08" x2="250.70" y2="587.08" stroke="#231f20" stroke-width="0.75"/>
<line x1="248.30" y1="585.40" x2="250.70" y2="585.40" stroke="#231f20" stroke-width="0.75"/>
<line x1="248.30" y1="584.11" x2="250.70" y2="584.11" stroke="#231f20" stroke-width="0.75"/>
<line x1="248.30" y1="583.05" x2="250.70" y2="583.05" stroke="#231f20" stroke-width="0.75"/>
<line x1="248.30" y1="582.15" x2="250.70" y2="582.15" stroke="#231f20" stroke-width="0.75"/>
<line x1="248.30" y1="581.37" x2="250.70" y2="581.37" stroke="#231f20" stroke-width="0.75"/>
<line x1="248.30" y1="580.69" x2="250.70" y2="580.69" stroke="#231f20" stroke-width="0.75"/>
<line x1="248.30" y1="576.04" x2="250.70" y2="576.04" stroke="#231f20" stroke-width="0.75"/>
<line x1="248.30" y1="573.69" x2="250.70" y2="573.69" stroke="#231f20" stroke-width="0.75"/>
<line x1="248.30" y1="572.01" x2="250.70" y2="572.01" stroke="#231f20" stroke-width="0.75"/>
<line x1="248.30" y1="570.72" x2="250.70" y2="570.72" stroke="#231f20" stroke-width="0.75"/>
<line x1="248.30" y1="569.66" x2="250.70" y2="569.66" stroke="#231f20" stroke-width="0.75"/>
<line x1="248.30" y1="568.76" x2="250.70" y2="568.76" stroke="#231f20" stroke-width="0.75"/>
<line x1="248.30" y1="567.98" x2="250.70" y2="567.98" stroke="#231f20" stroke-width="0.75"/>
<line x1="248.30" y1="567.30" x2="250.70" y2="567.30" stroke="#231f20" stroke-width="0.75"/>
<line x1="248.30" y1="562.66" x2="250.70" y2="562.66" stroke="#231f20" stroke-width="0.75"/>
<line x1="248.30" y1="560.30" x2="250.70" y2="560.30" stroke="#231f20" stroke-width="0.75"/>
<line x1="248.30" y1="558.63" x2="250.70" y2="558.63" stroke="#231f20" stroke-width="0.75"/>
<line x1="248.30" y1="557.33" x2="250.70" y2="557.33" stroke="#231f20" stroke-width="0.75"/>
<line x1="248.30" y1="556.27" x2="250.70" y2="556.27" stroke="#231f20" stroke-width="0.75"/>
<line x1="248.30" y1="555.37" x2="250.70" y2="555.37" stroke="#231f20" stroke-width="0.75"/>
<line x1="248.30" y1="554.60" x2="250.70" y2="554.60" stroke="#231f20" stroke-width="0.75"/>
<line x1="248.30" y1="553.91" x2="250.70" y2="553.91" stroke="#231f20" stroke-width="0.75"/>
<line x1="247.50" y1="660.40" x2="250.70" y2="660.40" stroke="#231f20" stroke-width="1.0"/>
<text x="0.00" y="0.00" font-size="8.5" text-anchor="end" fill="#231f20" stroke="#231f20" stroke-width="0.22" transform="translate(243.80,662.90) scale(0.92,1)">1.0E+1</text>
<line x1="247.50" y1="633.62" x2="250.70" y2="633.62" stroke="#231f20" stroke-width="1.0"/>
<text x="0.00" y="0.00" font-size="8.5" text-anchor="end" fill="#231f20" stroke="#231f20" stroke-width="0.22" transform="translate(243.80,636.12) scale(0.92,1)">1.0E+3</text>
<line x1="247.50" y1="606.85" x2="250.70" y2="606.85" stroke="#231f20" stroke-width="1.0"/>
<text x="0.00" y="0.00" font-size="8.5" text-anchor="end" fill="#231f20" stroke="#231f20" stroke-width="0.22" transform="translate(243.80,609.35) scale(0.92,1)">1.0E+5</text>
<line x1="247.50" y1="580.07" x2="250.70" y2="580.07" stroke="#231f20" stroke-width="1.0"/>
<text x="0.00" y="0.00" font-size="8.5" text-anchor="end" fill="#231f20" stroke="#231f20" stroke-width="0.22" transform="translate(243.80,582.57) scale(0.92,1)">1.0E+7</text>
<line x1="247.50" y1="553.30" x2="250.70" y2="553.30" stroke="#231f20" stroke-width="1.0"/>
<text x="0.00" y="0.00" font-size="8.5" text-anchor="end" fill="#231f20" stroke="#231f20" stroke-width="0.22" transform="translate(243.80,555.80) scale(0.92,1)">1.0E+9</text>
<line x1="254.36" y1="660.40" x2="254.36" y2="662.80" stroke="#231f20" stroke-width="0.75"/>
<line x1="256.50" y1="660.40" x2="256.50" y2="662.80" stroke="#231f20" stroke-width="0.75"/>
<line x1="258.02" y1="660.40" x2="258.02" y2="662.80" stroke="#231f20" stroke-width="0.75"/>
<line x1="259.20" y1="660.40" x2="259.20" y2="662.80" stroke="#231f20" stroke-width="0.75"/>
<line x1="260.16" y1="660.40" x2="260.16" y2="662.80" stroke="#231f20" stroke-width="0.75"/>
<line x1="260.98" y1="660.40" x2="260.98" y2="662.80" stroke="#231f20" stroke-width="0.75"/>
<line x1="261.68" y1="660.40" x2="261.68" y2="662.80" stroke="#231f20" stroke-width="0.75"/>
<line x1="262.31" y1="660.40" x2="262.31" y2="662.80" stroke="#231f20" stroke-width="0.75"/>
<line x1="266.52" y1="660.40" x2="266.52" y2="662.80" stroke="#231f20" stroke-width="0.75"/>
<line x1="268.67" y1="660.40" x2="268.67" y2="662.80" stroke="#231f20" stroke-width="0.75"/>
<line x1="270.19" y1="660.40" x2="270.19" y2="662.80" stroke="#231f20" stroke-width="0.75"/>
<line x1="271.36" y1="660.40" x2="271.36" y2="662.80" stroke="#231f20" stroke-width="0.75"/>
<line x1="272.33" y1="660.40" x2="272.33" y2="662.80" stroke="#231f20" stroke-width="0.75"/>
<line x1="273.14" y1="660.40" x2="273.14" y2="662.80" stroke="#231f20" stroke-width="0.75"/>
<line x1="273.85" y1="660.40" x2="273.85" y2="662.80" stroke="#231f20" stroke-width="0.75"/>
<line x1="274.47" y1="660.40" x2="274.47" y2="662.80" stroke="#231f20" stroke-width="0.75"/>
<line x1="278.69" y1="660.40" x2="278.69" y2="662.80" stroke="#231f20" stroke-width="0.75"/>
<line x1="280.83" y1="660.40" x2="280.83" y2="662.80" stroke="#231f20" stroke-width="0.75"/>
<line x1="282.35" y1="660.40" x2="282.35" y2="662.80" stroke="#231f20" stroke-width="0.75"/>
<line x1="283.53" y1="660.40" x2="283.53" y2="662.80" stroke="#231f20" stroke-width="0.75"/>
<line x1="284.49" y1="660.40" x2="284.49" y2="662.80" stroke="#231f20" stroke-width="0.75"/>
<line x1="285.30" y1="660.40" x2="285.30" y2="662.80" stroke="#231f20" stroke-width="0.75"/>
<line x1="286.01" y1="660.40" x2="286.01" y2="662.80" stroke="#231f20" stroke-width="0.75"/>
<line x1="286.63" y1="660.40" x2="286.63" y2="662.80" stroke="#231f20" stroke-width="0.75"/>
<line x1="290.85" y1="660.40" x2="290.85" y2="662.80" stroke="#231f20" stroke-width="0.75"/>
<line x1="292.99" y1="660.40" x2="292.99" y2="662.80" stroke="#231f20" stroke-width="0.75"/>
<line x1="294.51" y1="660.40" x2="294.51" y2="662.80" stroke="#231f20" stroke-width="0.75"/>
<line x1="295.69" y1="660.40" x2="295.69" y2="662.80" stroke="#231f20" stroke-width="0.75"/>
<line x1="296.65" y1="660.40" x2="296.65" y2="662.80" stroke="#231f20" stroke-width="0.75"/>
<line x1="297.47" y1="660.40" x2="297.47" y2="662.80" stroke="#231f20" stroke-width="0.75"/>
<line x1="298.17" y1="660.40" x2="298.17" y2="662.80" stroke="#231f20" stroke-width="0.75"/>
<line x1="298.79" y1="660.40" x2="298.79" y2="662.80" stroke="#231f20" stroke-width="0.75"/>
<line x1="303.01" y1="660.40" x2="303.01" y2="662.80" stroke="#231f20" stroke-width="0.75"/>
<line x1="305.15" y1="660.40" x2="305.15" y2="662.80" stroke="#231f20" stroke-width="0.75"/>
<line x1="306.67" y1="660.40" x2="306.67" y2="662.80" stroke="#231f20" stroke-width="0.75"/>
<line x1="307.85" y1="660.40" x2="307.85" y2="662.80" stroke="#231f20" stroke-width="0.75"/>
<line x1="308.81" y1="660.40" x2="308.81" y2="662.80" stroke="#231f20" stroke-width="0.75"/>
<line x1="309.63" y1="660.40" x2="309.63" y2="662.80" stroke="#231f20" stroke-width="0.75"/>
<line x1="310.33" y1="660.40" x2="310.33" y2="662.80" stroke="#231f20" stroke-width="0.75"/>
<line x1="310.96" y1="660.40" x2="310.96" y2="662.80" stroke="#231f20" stroke-width="0.75"/>
<line x1="315.17" y1="660.40" x2="315.17" y2="662.80" stroke="#231f20" stroke-width="0.75"/>
<line x1="317.32" y1="660.40" x2="317.32" y2="662.80" stroke="#231f20" stroke-width="0.75"/>
<line x1="318.84" y1="660.40" x2="318.84" y2="662.80" stroke="#231f20" stroke-width="0.75"/>
<line x1="320.01" y1="660.40" x2="320.01" y2="662.80" stroke="#231f20" stroke-width="0.75"/>
<line x1="320.98" y1="660.40" x2="320.98" y2="662.80" stroke="#231f20" stroke-width="0.75"/>
<line x1="321.79" y1="660.40" x2="321.79" y2="662.80" stroke="#231f20" stroke-width="0.75"/>
<line x1="322.50" y1="660.40" x2="322.50" y2="662.80" stroke="#231f20" stroke-width="0.75"/>
<line x1="323.12" y1="660.40" x2="323.12" y2="662.80" stroke="#231f20" stroke-width="0.75"/>
<line x1="327.34" y1="660.40" x2="327.34" y2="662.80" stroke="#231f20" stroke-width="0.75"/>
<line x1="329.48" y1="660.40" x2="329.48" y2="662.80" stroke="#231f20" stroke-width="0.75"/>
<line x1="331.00" y1="660.40" x2="331.00" y2="662.80" stroke="#231f20" stroke-width="0.75"/>
<line x1="332.18" y1="660.40" x2="332.18" y2="662.80" stroke="#231f20" stroke-width="0.75"/>
<line x1="333.14" y1="660.40" x2="333.14" y2="662.80" stroke="#231f20" stroke-width="0.75"/>
<line x1="333.95" y1="660.40" x2="333.95" y2="662.80" stroke="#231f20" stroke-width="0.75"/>
<line x1="334.66" y1="660.40" x2="334.66" y2="662.80" stroke="#231f20" stroke-width="0.75"/>
<line x1="335.28" y1="660.40" x2="335.28" y2="662.80" stroke="#231f20" stroke-width="0.75"/>
<line x1="339.50" y1="660.40" x2="339.50" y2="662.80" stroke="#231f20" stroke-width="0.75"/>
<line x1="341.64" y1="660.40" x2="341.64" y2="662.80" stroke="#231f20" stroke-width="0.75"/>
<line x1="343.16" y1="660.40" x2="343.16" y2="662.80" stroke="#231f20" stroke-width="0.75"/>
<line x1="344.34" y1="660.40" x2="344.34" y2="662.80" stroke="#231f20" stroke-width="0.75"/>
<line x1="345.30" y1="660.40" x2="345.30" y2="662.80" stroke="#231f20" stroke-width="0.75"/>
<line x1="346.12" y1="660.40" x2="346.12" y2="662.80" stroke="#231f20" stroke-width="0.75"/>
<line x1="346.82" y1="660.40" x2="346.82" y2="662.80" stroke="#231f20" stroke-width="0.75"/>
<line x1="347.44" y1="660.40" x2="347.44" y2="662.80" stroke="#231f20" stroke-width="0.75"/>
<line x1="250.70" y1="660.40" x2="250.70" y2="663.60" stroke="#231f20" stroke-width="1.0"/>
<text x="0.00" y="0.00" font-size="8.5" text-anchor="end" fill="#231f20" stroke="#231f20" stroke-width="0.22" transform="translate(254.30,670.60) rotate(-45) scale(0.92,1)">1.0E+1</text>
<line x1="275.02" y1="660.40" x2="275.02" y2="663.60" stroke="#231f20" stroke-width="1.0"/>
<text x="0.00" y="0.00" font-size="8.5" text-anchor="end" fill="#231f20" stroke="#231f20" stroke-width="0.22" transform="translate(278.62,670.60) rotate(-45) scale(0.92,1)">1.0E+3</text>
<line x1="299.35" y1="660.40" x2="299.35" y2="663.60" stroke="#231f20" stroke-width="1.0"/>
<text x="0.00" y="0.00" font-size="8.5" text-anchor="end" fill="#231f20" stroke="#231f20" stroke-width="0.22" transform="translate(302.95,670.60) rotate(-45) scale(0.92,1)">1.0E+5</text>
<line x1="323.68" y1="660.40" x2="323.68" y2="663.60" stroke="#231f20" stroke-width="1.0"/>
<text x="0.00" y="0.00" font-size="8.5" text-anchor="end" fill="#231f20" stroke="#231f20" stroke-width="0.22" transform="translate(327.28,670.60) rotate(-45) scale(0.92,1)">1.0E+7</text>
<line x1="348.00" y1="660.40" x2="348.00" y2="663.60" stroke="#231f20" stroke-width="1.0"/>
<text x="0.00" y="0.00" font-size="8.5" text-anchor="end" fill="#231f20" stroke="#231f20" stroke-width="0.22" transform="translate(351.60,670.60) rotate(-45) scale(0.92,1)">1.0E+9</text>
<path d="M315.0,591.0h1.3v1.3h-1.3zM279.5,621.5h1.3v1.3h-1.3zM272.5,631.5h1.3v1.3h-1.3zM299.5,608.5h1.3v1.3h-1.3zM285.5,623.5h1.3v1.3h-1.3zM296.0,609.0h1.3v1.3h-1.3zM292.5,612.0h1.3v1.3h-1.3zM283.0,622.5h1.3v1.3h-1.3zM276.5,631.5h1.3v1.3h-1.3zM294.5,613.5h1.3v1.3h-1.3zM271.5,639.0h1.3v1.3h-1.3zM285.5,620.5h1.3v1.3h-1.3zM282.5,628.0h1.3v1.3h-1.3zM292.5,612.5h1.3v1.3h-1.3zM299.5,606.0h1.3v1.3h-1.3zM269.0,640.5h1.3v1.3h-1.3zM309.0,594.5h1.3v1.3h-1.3zM279.5,630.0h1.3v1.3h-1.3zM295.0,613.0h1.3v1.3h-1.3zM278.0,626.5h1.3v1.3h-1.3zM284.5,623.0h1.3v1.3h-1.3zM282.0,626.5h1.3v1.3h-1.3zM278.5,625.0h1.3v1.3h-1.3zM292.5,615.0h1.3v1.3h-1.3zM291.0,616.5h1.3v1.3h-1.3zM312.0,591.5h1.3v1.3h-1.3zM292.0,615.5h1.3v1.3h-1.3zM276.5,632.0h1.3v1.3h-1.3zM315.0,590.0h1.3v1.3h-1.3zM295.0,612.5h1.3v1.3h-1.3zM293.5,616.5h1.3v1.3h-1.3zM289.0,619.5h1.3v1.3h-1.3zM283.0,633.0h1.3v1.3h-1.3zM297.5,604.0h1.3v1.3h-1.3zM299.0,602.0h1.3v1.3h-1.3zM319.5,586.0h1.3v1.3h-1.3zM290.5,618.5h1.3v1.3h-1.3zM297.0,614.0h1.3v1.3h-1.3zM296.5,609.5h1.3v1.3h-1.3zM301.0,601.0h1.3v1.3h-1.3zM292.5,612.5h1.3v1.3h-1.3zM294.0,612.0h1.3v1.3h-1.3zM278.0,633.0h1.3v1.3h-1.3zM296.0,609.0h1.3v1.3h-1.3zM261.5,653.0h1.3v1.3h-1.3zM267.5,647.5h1.3v1.3h-1.3zM310.5,600.5h1.3v1.3h-1.3zM303.0,602.5h1.3v1.3h-1.3zM284.0,621.0h1.3v1.3h-1.3zM308.0,594.0h1.3v1.3h-1.3zM291.5,611.0h1.3v1.3h-1.3zM292.5,617.5h1.3v1.3h-1.3zM298.5,607.5h1.3v1.3h-1.3zM284.0,623.5h1.3v1.3h-1.3zM286.5,619.5h1.3v1.3h-1.3zM297.5,610.5h1.3v1.3h-1.3zM264.0,647.0h1.3v1.3h-1.3zM276.0,638.5h1.3v1.3h-1.3zM294.0,614.5h1.3v1.3h-1.3zM279.0,629.0h1.3v1.3h-1.3zM305.5,600.5h1.3v1.3h-1.3zM273.5,632.5h1.3v1.3h-1.3zM272.0,635.5h1.3v1.3h-1.3zM292.5,609.5h1.3v1.3h-1.3zM296.5,610.5h1.3v1.3h-1.3zM289.5,617.5h1.3v1.3h-1.3zM304.0,602.5h1.3v1.3h-1.3zM275.0,635.0h1.3v1.3h-1.3zM255.5,654.5h1.3v1.3h-1.3zM279.5,625.5h1.3v1.3h-1.3zM315.5,591.0h1.3v1.3h-1.3zM280.5,628.5h1.3v1.3h-1.3zM303.5,601.5h1.3v1.3h-1.3zM279.0,628.0h1.3v1.3h-1.3zM282.0,627.0h1.3v1.3h-1.3zM298.5,598.0h1.3v1.3h-1.3zM292.5,614.5h1.3v1.3h-1.3zM268.5,642.0h1.3v1.3h-1.3zM270.5,637.5h1.3v1.3h-1.3zM293.0,611.0h1.3v1.3h-1.3zM277.5,631.5h1.3v1.3h-1.3zM288.0,620.5h1.3v1.3h-1.3zM286.0,624.0h1.3v1.3h-1.3zM268.5,642.0h1.3v1.3h-1.3zM300.0,609.5h1.3v1.3h-1.3zM279.0,630.0h1.3v1.3h-1.3zM300.5,609.0h1.3v1.3h-1.3zM291.5,618.0h1.3v1.3h-1.3zM296.5,610.0h1.3v1.3h-1.3zM298.5,611.5h1.3v1.3h-1.3zM293.5,619.0h1.3v1.3h-1.3zM293.0,612.0h1.3v1.3h-1.3zM281.5,624.5h1.3v1.3h-1.3zM280.5,631.0h1.3v1.3h-1.3zM276.5,628.0h1.3v1.3h-1.3zM267.5,638.5h1.3v1.3h-1.3zM319.5,583.5h1.3v1.3h-1.3zM300.5,605.5h1.3v1.3h-1.3zM281.5,630.5h1.3v1.3h-1.3zM278.0,627.0h1.3v1.3h-1.3zM265.5,645.0h1.3v1.3h-1.3zM297.0,607.5h1.3v1.3h-1.3zM294.5,608.5h1.3v1.3h-1.3zM305.0,601.5h1.3v1.3h-1.3zM289.5,616.0h1.3v1.3h-1.3zM291.0,615.0h1.3v1.3h-1.3zM286.5,621.0h1.3v1.3h-1.3zM286.5,621.5h1.3v1.3h-1.3zM292.5,603.5h1.3v1.3h-1.3zM285.0,626.0h1.3v1.3h-1.3zM313.5,591.5h1.3v1.3h-1.3zM295.0,604.5h1.3v1.3h-1.3zM284.5,621.5h1.3v1.3h-1.3zM278.5,634.0h1.3v1.3h-1.3zM291.0,617.0h1.3v1.3h-1.3zM278.5,630.5h1.3v1.3h-1.3zM290.0,613.5h1.3v1.3h-1.3zM298.5,608.5h1.3v1.3h-1.3zM281.0,626.0h1.3v1.3h-1.3zM287.5,624.0h1.3v1.3h-1.3zM267.5,643.5h1.3v1.3h-1.3zM254.5,653.0h1.3v1.3h-1.3zM299.5,614.5h1.3v1.3h-1.3zM290.5,606.5h1.3v1.3h-1.3zM282.0,624.5h1.3v1.3h-1.3zM286.0,630.0h1.3v1.3h-1.3zM310.0,599.5h1.3v1.3h-1.3zM316.5,589.5h1.3v1.3h-1.3zM291.5,621.5h1.3v1.3h-1.3zM305.0,602.0h1.3v1.3h-1.3zM262.0,648.0h1.3v1.3h-1.3zM305.0,604.5h1.3v1.3h-1.3zM311.5,600.0h1.3v1.3h-1.3zM316.5,590.5h1.3v1.3h-1.3zM280.5,630.5h1.3v1.3h-1.3zM300.0,608.0h1.3v1.3h-1.3zM286.0,618.5h1.3v1.3h-1.3zM300.0,602.0h1.3v1.3h-1.3zM281.5,630.0h1.3v1.3h-1.3zM254.5,651.5h1.3v1.3h-1.3zM292.0,616.0h1.3v1.3h-1.3zM294.0,615.5h1.3v1.3h-1.3zM255.0,654.5h1.3v1.3h-1.3zM298.0,607.0h1.3v1.3h-1.3zM299.0,608.5h1.3v1.3h-1.3zM288.5,617.0h1.3v1.3h-1.3zM302.0,605.0h1.3v1.3h-1.3zM291.0,612.5h1.3v1.3h-1.3zM285.0,622.5h1.3v1.3h-1.3zM280.5,626.5h1.3v1.3h-1.3zM294.5,615.5h1.3v1.3h-1.3zM298.5,603.0h1.3v1.3h-1.3zM308.5,600.0h1.3v1.3h-1.3zM284.5,623.0h1.3v1.3h-1.3zM277.5,630.5h1.3v1.3h-1.3zM284.5,624.5h1.3v1.3h-1.3zM295.5,606.0h1.3v1.3h-1.3zM300.0,605.0h1.3v1.3h-1.3zM286.0,619.5h1.3v1.3h-1.3zM289.5,618.0h1.3v1.3h-1.3zM287.0,626.5h1.3v1.3h-1.3zM293.0,617.5h1.3v1.3h-1.3zM297.0,610.0h1.3v1.3h-1.3zM309.0,594.5h1.3v1.3h-1.3zM262.0,645.5h1.3v1.3h-1.3zM266.5,643.5h1.3v1.3h-1.3zM315.5,589.0h1.3v1.3h-1.3zM296.5,611.0h1.3v1.3h-1.3zM296.0,612.5h1.3v1.3h-1.3zM294.0,618.0h1.3v1.3h-1.3zM320.5,582.0h1.3v1.3h-1.3zM291.0,616.0h1.3v1.3h-1.3zM276.5,635.0h1.3v1.3h-1.3zM274.5,633.5h1.3v1.3h-1.3zM320.0,585.0h1.3v1.3h-1.3zM306.5,607.5h1.3v1.3h-1.3zM274.5,636.5h1.3v1.3h-1.3zM275.0,636.0h1.3v1.3h-1.3zM260.5,646.0h1.3v1.3h-1.3zM317.5,587.5h1.3v1.3h-1.3zM321.0,582.5h1.3v1.3h-1.3zM292.5,612.5h1.3v1.3h-1.3zM294.0,619.5h1.3v1.3h-1.3zM286.0,619.0h1.3v1.3h-1.3zM273.0,622.5h1.3v1.3h-1.3zM304.5,605.5h1.3v1.3h-1.3zM272.0,634.0h1.3v1.3h-1.3zM288.0,619.5h1.3v1.3h-1.3zM264.0,643.5h1.3v1.3h-1.3zM281.0,623.5h1.3v1.3h-1.3zM306.0,601.0h1.3v1.3h-1.3zM292.5,611.5h1.3v1.3h-1.3zM276.5,637.0h1.3v1.3h-1.3zM296.0,613.5h1.3v1.3h-1.3zM282.0,616.0h1.3v1.3h-1.3zM277.5,634.0h1.3v1.3h-1.3zM312.0,592.5h1.3v1.3h-1.3zM258.5,651.5h1.3v1.3h-1.3zM284.0,612.5h1.3v1.3h-1.3zM296.5,613.0h1.3v1.3h-1.3zM268.5,642.5h1.3v1.3h-1.3zM308.0,595.0h1.3v1.3h-1.3zM279.5,624.0h1.3v1.3h-1.3zM280.5,624.5h1.3v1.3h-1.3zM277.0,626.0h1.3v1.3h-1.3zM293.0,613.5h1.3v1.3h-1.3zM278.5,628.5h1.3v1.3h-1.3zM273.0,636.0h1.3v1.3h-1.3zM289.5,623.0h1.3v1.3h-1.3zM283.0,624.0h1.3v1.3h-1.3zM287.5,618.5h1.3v1.3h-1.3zM282.0,623.5h1.3v1.3h-1.3zM319.0,585.0h1.3v1.3h-1.3zM269.5,635.5h1.3v1.3h-1.3zM307.5,597.5h1.3v1.3h-1.3zM296.5,611.5h1.3v1.3h-1.3zM281.0,628.0h1.3v1.3h-1.3zM285.0,622.0h1.3v1.3h-1.3zM296.5,617.5h1.3v1.3h-1.3zM285.0,624.5h1.3v1.3h-1.3zM288.0,621.0h1.3v1.3h-1.3zM295.5,613.0h1.3v1.3h-1.3zM282.0,614.5h1.3v1.3h-1.3zM295.5,610.5h1.3v1.3h-1.3zM293.0,610.0h1.3v1.3h-1.3zM282.0,622.0h1.3v1.3h-1.3zM306.0,598.0h1.3v1.3h-1.3zM284.5,624.5h1.3v1.3h-1.3zM277.5,630.0h1.3v1.3h-1.3zM297.5,609.0h1.3v1.3h-1.3zM275.0,635.5h1.3v1.3h-1.3zM292.0,608.5h1.3v1.3h-1.3zM280.0,632.5h1.3v1.3h-1.3zM284.0,624.5h1.3v1.3h-1.3zM277.0,624.0h1.3v1.3h-1.3zM289.0,622.0h1.3v1.3h-1.3zM294.0,607.5h1.3v1.3h-1.3zM288.0,616.5h1.3v1.3h-1.3zM298.5,610.5h1.3v1.3h-1.3zM270.5,638.5h1.3v1.3h-1.3zM276.0,630.0h1.3v1.3h-1.3zM292.0,607.0h1.3v1.3h-1.3zM283.0,620.5h1.3v1.3h-1.3zM304.0,605.0h1.3v1.3h-1.3zM292.5,616.5h1.3v1.3h-1.3zM307.5,597.0h1.3v1.3h-1.3zM308.5,599.5h1.3v1.3h-1.3zM285.0,621.5h1.3v1.3h-1.3zM278.0,631.5h1.3v1.3h-1.3zM291.5,614.5h1.3v1.3h-1.3zM286.0,624.0h1.3v1.3h-1.3zM289.5,613.5h1.3v1.3h-1.3zM270.0,643.0h1.3v1.3h-1.3zM292.5,613.5h1.3v1.3h-1.3zM290.0,614.5h1.3v1.3h-1.3zM285.0,623.5h1.3v1.3h-1.3zM323.0,583.5h1.3v1.3h-1.3zM314.5,591.0h1.3v1.3h-1.3zM287.0,616.0h1.3v1.3h-1.3zM293.5,612.5h1.3v1.3h-1.3zM296.0,612.0h1.3v1.3h-1.3zM306.0,601.0h1.3v1.3h-1.3zM302.5,599.0h1.3v1.3h-1.3zM320.5,583.0h1.3v1.3h-1.3zM323.0,580.0h1.3v1.3h-1.3zM276.5,638.0h1.3v1.3h-1.3zM291.0,615.5h1.3v1.3h-1.3zM300.5,608.0h1.3v1.3h-1.3zM287.5,616.5h1.3v1.3h-1.3zM268.0,645.0h1.3v1.3h-1.3zM295.0,613.0h1.3v1.3h-1.3zM312.0,592.5h1.3v1.3h-1.3zM291.5,614.5h1.3v1.3h-1.3zM282.5,625.0h1.3v1.3h-1.3zM300.5,600.5h1.3v1.3h-1.3zM316.0,588.5h1.3v1.3h-1.3zM275.0,631.5h1.3v1.3h-1.3zM297.0,610.0h1.3v1.3h-1.3zM309.0,596.5h1.3v1.3h-1.3zM311.0,595.5h1.3v1.3h-1.3zM287.0,628.0h1.3v1.3h-1.3zM284.5,622.0h1.3v1.3h-1.3zM265.5,646.5h1.3v1.3h-1.3zM296.0,607.0h1.3v1.3h-1.3zM293.0,613.0h1.3v1.3h-1.3zM289.5,614.5h1.3v1.3h-1.3zM291.5,615.5h1.3v1.3h-1.3zM306.5,603.0h1.3v1.3h-1.3zM307.5,598.5h1.3v1.3h-1.3zM284.5,625.0h1.3v1.3h-1.3zM280.0,634.5h1.3v1.3h-1.3zM257.0,656.5h1.3v1.3h-1.3zM294.5,619.0h1.3v1.3h-1.3zM301.0,601.5h1.3v1.3h-1.3zM291.0,616.5h1.3v1.3h-1.3zM305.0,600.0h1.3v1.3h-1.3zM258.0,651.0h1.3v1.3h-1.3zM289.5,618.0h1.3v1.3h-1.3zM268.5,640.5h1.3v1.3h-1.3zM266.0,641.0h1.3v1.3h-1.3zM282.0,629.5h1.3v1.3h-1.3zM296.0,615.0h1.3v1.3h-1.3zM291.5,618.0h1.3v1.3h-1.3zM279.5,629.5h1.3v1.3h-1.3zM297.5,603.5h1.3v1.3h-1.3zM288.5,622.0h1.3v1.3h-1.3zM273.0,634.5h1.3v1.3h-1.3zM308.5,601.5h1.3v1.3h-1.3zM289.0,621.5h1.3v1.3h-1.3zM298.5,605.0h1.3v1.3h-1.3zM294.5,616.0h1.3v1.3h-1.3zM284.0,629.0h1.3v1.3h-1.3zM276.5,633.5h1.3v1.3h-1.3zM258.0,650.0h1.3v1.3h-1.3zM316.0,588.5h1.3v1.3h-1.3zM282.0,625.5h1.3v1.3h-1.3zM289.5,609.5h1.3v1.3h-1.3zM275.5,643.5h1.3v1.3h-1.3zM289.0,618.0h1.3v1.3h-1.3zM293.0,618.5h1.3v1.3h-1.3zM287.0,624.0h1.3v1.3h-1.3zM278.5,631.0h1.3v1.3h-1.3zM278.0,623.0h1.3v1.3h-1.3zM282.5,623.5h1.3v1.3h-1.3zM314.5,588.5h1.3v1.3h-1.3zM272.5,637.5h1.3v1.3h-1.3zM289.0,618.5h1.3v1.3h-1.3zM289.5,619.5h1.3v1.3h-1.3zM288.5,617.0h1.3v1.3h-1.3zM274.0,635.0h1.3v1.3h-1.3zM292.0,614.5h1.3v1.3h-1.3zM288.5,615.0h1.3v1.3h-1.3zM281.0,628.0h1.3v1.3h-1.3zM291.5,618.0h1.3v1.3h-1.3zM320.5,585.0h1.3v1.3h-1.3zM289.5,616.0h1.3v1.3h-1.3zM277.5,633.0h1.3v1.3h-1.3zM311.0,597.5h1.3v1.3h-1.3zM255.5,655.5h1.3v1.3h-1.3zM274.0,633.0h1.3v1.3h-1.3zM289.5,618.0h1.3v1.3h-1.3zM258.0,651.0h1.3v1.3h-1.3zM278.5,630.5h1.3v1.3h-1.3zM315.5,590.0h1.3v1.3h-1.3zM282.5,624.5h1.3v1.3h-1.3zM291.5,613.0h1.3v1.3h-1.3zM288.0,618.0h1.3v1.3h-1.3zM282.5,628.0h1.3v1.3h-1.3zM291.0,614.0h1.3v1.3h-1.3zM291.5,617.0h1.3v1.3h-1.3zM281.5,629.5h1.3v1.3h-1.3zM255.0,653.5h1.3v1.3h-1.3zM272.5,635.5h1.3v1.3h-1.3zM292.0,616.0h1.3v1.3h-1.3zM292.5,614.5h1.3v1.3h-1.3zM299.5,604.5h1.3v1.3h-1.3zM318.5,587.0h1.3v1.3h-1.3zM295.0,616.5h1.3v1.3h-1.3zM279.5,629.5h1.3v1.3h-1.3zM317.0,587.0h1.3v1.3h-1.3zM302.0,609.0h1.3v1.3h-1.3zM290.5,623.0h1.3v1.3h-1.3zM300.5,607.0h1.3v1.3h-1.3zM283.5,622.0h1.3v1.3h-1.3zM316.5,588.0h1.3v1.3h-1.3zM292.5,617.5h1.3v1.3h-1.3zM291.5,616.0h1.3v1.3h-1.3zM303.0,606.0h1.3v1.3h-1.3zM321.5,584.5h1.3v1.3h-1.3zM264.5,646.5h1.3v1.3h-1.3zM286.5,622.0h1.3v1.3h-1.3zM286.5,619.5h1.3v1.3h-1.3zM289.0,612.5h1.3v1.3h-1.3zM281.0,634.0h1.3v1.3h-1.3zM288.0,612.5h1.3v1.3h-1.3zM286.0,618.0h1.3v1.3h-1.3zM259.0,650.0h1.3v1.3h-1.3zM316.5,588.5h1.3v1.3h-1.3zM284.0,623.5h1.3v1.3h-1.3zM287.5,619.5h1.3v1.3h-1.3zM287.5,616.0h1.3v1.3h-1.3zM293.5,613.5h1.3v1.3h-1.3zM312.0,594.0h1.3v1.3h-1.3zM275.5,631.5h1.3v1.3h-1.3zM291.0,617.5h1.3v1.3h-1.3zM273.0,639.0h1.3v1.3h-1.3zM278.5,629.0h1.3v1.3h-1.3zM314.5,591.5h1.3v1.3h-1.3zM286.5,619.5h1.3v1.3h-1.3zM268.0,647.0h1.3v1.3h-1.3zM298.5,604.0h1.3v1.3h-1.3zM296.0,612.0h1.3v1.3h-1.3zM290.0,604.5h1.3v1.3h-1.3zM310.5,597.5h1.3v1.3h-1.3zM286.0,619.5h1.3v1.3h-1.3zM274.0,634.0h1.3v1.3h-1.3zM280.5,625.5h1.3v1.3h-1.3zM301.5,605.0h1.3v1.3h-1.3zM284.0,620.5h1.3v1.3h-1.3zM294.0,619.5h1.3v1.3h-1.3zM272.0,645.5h1.3v1.3h-1.3zM287.5,617.5h1.3v1.3h-1.3zM295.5,612.5h1.3v1.3h-1.3zM295.0,612.0h1.3v1.3h-1.3zM303.5,606.0h1.3v1.3h-1.3zM281.5,630.0h1.3v1.3h-1.3zM287.5,619.5h1.3v1.3h-1.3zM274.5,639.5h1.3v1.3h-1.3zM269.5,637.0h1.3v1.3h-1.3zM311.5,592.0h1.3v1.3h-1.3zM289.5,622.5h1.3v1.3h-1.3zM299.5,602.0h1.3v1.3h-1.3zM302.5,604.0h1.3v1.3h-1.3zM290.5,616.5h1.3v1.3h-1.3zM297.0,609.5h1.3v1.3h-1.3zM291.5,615.5h1.3v1.3h-1.3zM324.5,580.0h1.3v1.3h-1.3zM295.5,608.0h1.3v1.3h-1.3zM296.0,612.0h1.3v1.3h-1.3zM292.5,614.0h1.3v1.3h-1.3zM281.0,625.0h1.3v1.3h-1.3zM298.5,605.5h1.3v1.3h-1.3zM286.5,617.5h1.3v1.3h-1.3zM300.5,606.0h1.3v1.3h-1.3zM284.5,621.5h1.3v1.3h-1.3zM273.5,638.5h1.3v1.3h-1.3zM298.5,609.0h1.3v1.3h-1.3zM302.5,603.5h1.3v1.3h-1.3zM297.5,609.0h1.3v1.3h-1.3zM286.5,620.0h1.3v1.3h-1.3zM304.5,602.5h1.3v1.3h-1.3zM285.5,622.0h1.3v1.3h-1.3zM296.5,612.0h1.3v1.3h-1.3zM320.5,581.5h1.3v1.3h-1.3zM285.0,626.5h1.3v1.3h-1.3zM292.5,615.0h1.3v1.3h-1.3zM307.5,595.5h1.3v1.3h-1.3zM299.5,609.0h1.3v1.3h-1.3zM285.5,619.0h1.3v1.3h-1.3zM299.5,608.0h1.3v1.3h-1.3zM285.0,620.5h1.3v1.3h-1.3zM283.0,620.0h1.3v1.3h-1.3zM309.5,592.5h1.3v1.3h-1.3zM276.0,633.5h1.3v1.3h-1.3zM311.5,592.5h1.3v1.3h-1.3zM282.5,624.0h1.3v1.3h-1.3zM289.5,614.5h1.3v1.3h-1.3zM313.5,595.5h1.3v1.3h-1.3zM289.5,616.0h1.3v1.3h-1.3zM299.5,613.5h1.3v1.3h-1.3zM300.0,610.5h1.3v1.3h-1.3zM296.5,613.0h1.3v1.3h-1.3zM293.5,623.5h1.3v1.3h-1.3zM268.0,644.5h1.3v1.3h-1.3zM285.5,621.5h1.3v1.3h-1.3zM274.0,636.0h1.3v1.3h-1.3zM263.0,646.5h1.3v1.3h-1.3zM292.5,621.0h1.3v1.3h-1.3zM294.0,610.5h1.3v1.3h-1.3zM287.0,622.0h1.3v1.3h-1.3zM276.5,632.0h1.3v1.3h-1.3zM291.5,621.0h1.3v1.3h-1.3zM276.0,635.0h1.3v1.3h-1.3zM281.5,625.0h1.3v1.3h-1.3zM299.0,610.0h1.3v1.3h-1.3zM284.0,624.0h1.3v1.3h-1.3zM274.0,633.0h1.3v1.3h-1.3zM320.5,583.5h1.3v1.3h-1.3zM269.0,636.5h1.3v1.3h-1.3zM301.5,601.5h1.3v1.3h-1.3zM309.5,603.0h1.3v1.3h-1.3zM272.5,636.5h1.3v1.3h-1.3zM275.5,635.5h1.3v1.3h-1.3zM281.0,628.5h1.3v1.3h-1.3zM258.0,648.5h1.3v1.3h-1.3zM290.5,618.0h1.3v1.3h-1.3zM291.0,614.5h1.3v1.3h-1.3zM288.5,617.0h1.3v1.3h-1.3zM294.5,605.5h1.3v1.3h-1.3zM296.5,605.5h1.3v1.3h-1.3zM284.5,628.5h1.3v1.3h-1.3zM272.0,634.5h1.3v1.3h-1.3zM273.0,639.0h1.3v1.3h-1.3zM285.5,626.5h1.3v1.3h-1.3zM308.0,602.0h1.3v1.3h-1.3zM275.5,634.5h1.3v1.3h-1.3zM270.5,638.0h1.3v1.3h-1.3zM295.0,616.5h1.3v1.3h-1.3zM310.5,589.0h1.3v1.3h-1.3zM280.5,621.0h1.3v1.3h-1.3zM283.5,628.0h1.3v1.3h-1.3zM274.5,634.5h1.3v1.3h-1.3zM323.5,578.0h1.3v1.3h-1.3zM278.0,620.5h1.3v1.3h-1.3zM263.0,645.5h1.3v1.3h-1.3zM261.0,651.5h1.3v1.3h-1.3zM277.5,631.0h1.3v1.3h-1.3zM318.0,588.0h1.3v1.3h-1.3zM284.5,624.0h1.3v1.3h-1.3zM279.5,628.5h1.3v1.3h-1.3zM300.5,606.0h1.3v1.3h-1.3zM290.0,617.0h1.3v1.3h-1.3zM283.0,626.5h1.3v1.3h-1.3zM261.0,651.5h1.3v1.3h-1.3zM284.0,619.0h1.3v1.3h-1.3zM292.5,626.0h1.3v1.3h-1.3zM299.5,605.5h1.3v1.3h-1.3zM292.0,611.0h1.3v1.3h-1.3zM263.0,639.5h1.3v1.3h-1.3zM291.0,618.0h1.3v1.3h-1.3zM282.5,624.0h1.3v1.3h-1.3zM296.0,611.5h1.3v1.3h-1.3zM296.0,613.5h1.3v1.3h-1.3zM317.5,588.5h1.3v1.3h-1.3zM286.0,622.5h1.3v1.3h-1.3zM296.0,613.5h1.3v1.3h-1.3zM286.0,618.5h1.3v1.3h-1.3zM303.5,605.0h1.3v1.3h-1.3zM279.0,628.0h1.3v1.3h-1.3zM277.5,625.5h1.3v1.3h-1.3z" fill="#27457f"/>
<line x1="250.70" y1="660.40" x2="348.00" y2="553.30" stroke="#111" stroke-width="1.1"/>
<rect x="250.70" y="553.30" width="97.30" height="107.10" fill="none" stroke="#111" stroke-width="1.6"/>
<text x="263.6" y="565.8" font-size="6.6" fill="#231f20" stroke="#231f20" stroke-width="0.15" transform="translate(263.6,0) scale(0.92,1) translate(-263.6,0)">R<tspan font-size="4" dy="-2.8">2</tspan><tspan dy="2.8">=0.9954</tspan></text>
<rect x="0.00" y="0.00" width="520.00" height="1.20" fill="#000"/>
<rect x="0.00" y="0.00" width="1.20" height="715.00" fill="#000"/>
<rect x="518.50" y="0.00" width="1.50" height="715.00" fill="#000"/>
<rect x="0.00" y="713.50" width="520.00" height="1.50" fill="#000"/>
</svg></div>
</body></html>
